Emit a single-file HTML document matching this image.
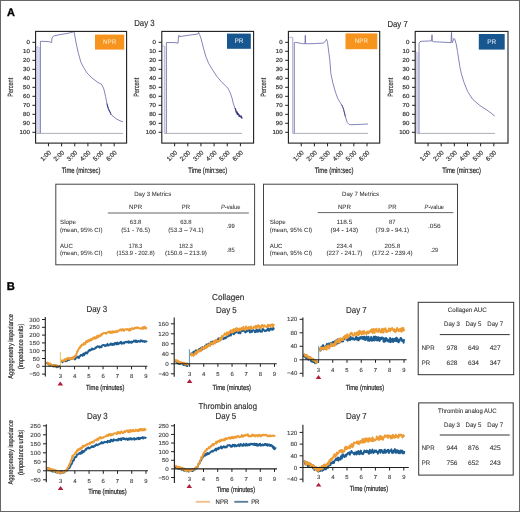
<!DOCTYPE html>
<html><head><meta charset="utf-8"><style>
html,body{margin:0;padding:0;background:#fff;}
svg{display:block;will-change:transform;}
text{font-family:"Liberation Sans", sans-serif;text-rendering:geometricPrecision;}
</style></head><body>
<svg width="520" height="512" viewBox="0 0 520 512">
<rect width="520" height="512" fill="#fff"/>
<text x="7.00" y="16.00" font-size="10.9" fill="#000" font-weight="bold" stroke="#000" stroke-width="0.35">A</text>
<text x="144.40" y="26.30" font-size="8.8" fill="#2e2e2e" text-anchor="middle" textLength="20.40" lengthAdjust="spacingAndGlyphs" stroke="#2e2e2e" stroke-width="0.15">Day 3</text>
<text x="397.60" y="26.50" font-size="8.8" fill="#2e2e2e" text-anchor="middle" textLength="20.30" lengthAdjust="spacingAndGlyphs" stroke="#2e2e2e" stroke-width="0.15">Day 7</text>
<rect x="95.00" y="34.60" width="29.20" height="15.00" fill="#F7941D"/>
<text x="109.60" y="43.90" font-size="6.6" fill="#FCE3B8" text-anchor="middle" textLength="13.20" lengthAdjust="spacingAndGlyphs" stroke="#FCE3B8" stroke-width="0.08">NPR</text>
<rect x="36.30" y="47.00" width="4.00" height="86.20" fill="#d8d8ee"/>
<line x1="36.30" y1="133.40" x2="123.00" y2="133.40" stroke="#a4a4b0" stroke-width="0.9"/>
<path d="M36.20,47.60 L38.40,46.00" fill="none" stroke="#9898cc" stroke-width="0.7" stroke-linejoin="round"/>
<path d="M40.40,133.20 L40.40,41.30 L45.00,41.40 L49.60,41.80 L51.60,42.60 L52.00,38.00 L53.50,36.00 L60.00,34.60 L67.00,33.50 L73.00,32.00 L74.00,31.60 L75.00,37.00 L76.10,43.00 L78.20,52.60 L80.90,62.20 L83.70,67.60 L87.10,73.10 L91.90,77.90 L97.30,82.00 L101.40,84.20 L103.50,88.10 L104.60,92.00 L105.50,96.30 L107.30,105.30 L108.80,110.00 L110.50,113.30 L112.00,115.50 L116.60,119.00 L120.00,120.80 L123.00,121.80" fill="none" stroke="#6464a8" stroke-width="0.8" stroke-linejoin="round"/>
<path d="M107.00,103.60 L107.30,104.60 L107.60,106.77 L107.90,106.66 L108.20,108.50 L108.50,108.97 L108.80,109.12 L109.10,110.71 L109.40,110.40 L109.70,111.76 L110.00,111.58 L110.30,112.14 L110.60,113.33 L110.90,114.72" fill="none" stroke="#3a3a84" stroke-width="1.0" stroke-linejoin="round"/>
<rect x="35.60" y="31.40" width="91.00" height="111.70" fill="none" stroke="#1e1e1e" stroke-width="1.1"/>
<line x1="32.40" y1="42.30" x2="35.60" y2="42.30" stroke="#1e1e1e" stroke-width="1"/>
<text x="29.80" y="44.30" font-size="5.8" fill="#333" text-anchor="end" textLength="3.40" lengthAdjust="spacingAndGlyphs" stroke="#333" stroke-width="0.2">0</text>
<line x1="32.40" y1="51.30" x2="35.60" y2="51.30" stroke="#1e1e1e" stroke-width="1"/>
<text x="29.80" y="53.30" font-size="5.8" fill="#333" text-anchor="end" textLength="6.80" lengthAdjust="spacingAndGlyphs" stroke="#333" stroke-width="0.2">10</text>
<line x1="32.40" y1="60.30" x2="35.60" y2="60.30" stroke="#1e1e1e" stroke-width="1"/>
<text x="29.80" y="62.30" font-size="5.8" fill="#333" text-anchor="end" textLength="6.80" lengthAdjust="spacingAndGlyphs" stroke="#333" stroke-width="0.2">20</text>
<line x1="32.40" y1="69.30" x2="35.60" y2="69.30" stroke="#1e1e1e" stroke-width="1"/>
<text x="29.80" y="71.30" font-size="5.8" fill="#333" text-anchor="end" textLength="6.80" lengthAdjust="spacingAndGlyphs" stroke="#333" stroke-width="0.2">30</text>
<line x1="32.40" y1="78.30" x2="35.60" y2="78.30" stroke="#1e1e1e" stroke-width="1"/>
<text x="29.80" y="80.30" font-size="5.8" fill="#333" text-anchor="end" textLength="6.80" lengthAdjust="spacingAndGlyphs" stroke="#333" stroke-width="0.2">40</text>
<line x1="32.40" y1="87.30" x2="35.60" y2="87.30" stroke="#1e1e1e" stroke-width="1"/>
<text x="29.80" y="89.30" font-size="5.8" fill="#333" text-anchor="end" textLength="6.80" lengthAdjust="spacingAndGlyphs" stroke="#333" stroke-width="0.2">50</text>
<line x1="32.40" y1="96.30" x2="35.60" y2="96.30" stroke="#1e1e1e" stroke-width="1"/>
<text x="29.80" y="98.30" font-size="5.8" fill="#333" text-anchor="end" textLength="6.80" lengthAdjust="spacingAndGlyphs" stroke="#333" stroke-width="0.2">60</text>
<line x1="32.40" y1="105.30" x2="35.60" y2="105.30" stroke="#1e1e1e" stroke-width="1"/>
<text x="29.80" y="107.30" font-size="5.8" fill="#333" text-anchor="end" textLength="6.80" lengthAdjust="spacingAndGlyphs" stroke="#333" stroke-width="0.2">70</text>
<line x1="32.40" y1="114.30" x2="35.60" y2="114.30" stroke="#1e1e1e" stroke-width="1"/>
<text x="29.80" y="116.30" font-size="5.8" fill="#333" text-anchor="end" textLength="6.80" lengthAdjust="spacingAndGlyphs" stroke="#333" stroke-width="0.2">80</text>
<line x1="32.40" y1="123.30" x2="35.60" y2="123.30" stroke="#1e1e1e" stroke-width="1"/>
<text x="29.80" y="125.30" font-size="5.8" fill="#333" text-anchor="end" textLength="6.80" lengthAdjust="spacingAndGlyphs" stroke="#333" stroke-width="0.2">90</text>
<line x1="32.40" y1="132.30" x2="35.60" y2="132.30" stroke="#1e1e1e" stroke-width="1"/>
<text x="29.80" y="134.30" font-size="5.8" fill="#333" text-anchor="end" textLength="10.20" lengthAdjust="spacingAndGlyphs" stroke="#333" stroke-width="0.2">100</text>
<line x1="48.45" y1="143.10" x2="48.45" y2="146.30" stroke="#1e1e1e" stroke-width="1"/>
<text transform="translate(51.45,153.00) rotate(-45)" x="0" y="0" font-size="6.3" fill="#333" text-anchor="end" textLength="12.00" lengthAdjust="spacingAndGlyphs" stroke="#333" stroke-width="0.2">1:00</text>
<line x1="61.60" y1="143.10" x2="61.60" y2="146.30" stroke="#1e1e1e" stroke-width="1"/>
<text transform="translate(64.60,153.00) rotate(-45)" x="0" y="0" font-size="6.3" fill="#333" text-anchor="end" textLength="12.00" lengthAdjust="spacingAndGlyphs" stroke="#333" stroke-width="0.2">2:00</text>
<line x1="74.75" y1="143.10" x2="74.75" y2="146.30" stroke="#1e1e1e" stroke-width="1"/>
<text transform="translate(77.75,153.00) rotate(-45)" x="0" y="0" font-size="6.3" fill="#333" text-anchor="end" textLength="12.00" lengthAdjust="spacingAndGlyphs" stroke="#333" stroke-width="0.2">3:00</text>
<line x1="87.90" y1="143.10" x2="87.90" y2="146.30" stroke="#1e1e1e" stroke-width="1"/>
<text transform="translate(90.90,153.00) rotate(-45)" x="0" y="0" font-size="6.3" fill="#333" text-anchor="end" textLength="12.00" lengthAdjust="spacingAndGlyphs" stroke="#333" stroke-width="0.2">4:00</text>
<line x1="101.05" y1="143.10" x2="101.05" y2="146.30" stroke="#1e1e1e" stroke-width="1"/>
<text transform="translate(104.05,153.00) rotate(-45)" x="0" y="0" font-size="6.3" fill="#333" text-anchor="end" textLength="12.00" lengthAdjust="spacingAndGlyphs" stroke="#333" stroke-width="0.2">5:00</text>
<line x1="114.20" y1="143.10" x2="114.20" y2="146.30" stroke="#1e1e1e" stroke-width="1"/>
<text transform="translate(117.20,153.00) rotate(-45)" x="0" y="0" font-size="6.3" fill="#333" text-anchor="end" textLength="12.00" lengthAdjust="spacingAndGlyphs" stroke="#333" stroke-width="0.2">6:00</text>
<text transform="translate(13.20,87.25) rotate(-90)" x="0" y="0" font-size="7.6" fill="#2a2a2a" text-anchor="middle" textLength="18.80" lengthAdjust="spacingAndGlyphs" stroke="#2a2a2a" stroke-width="0.16">Percent</text>
<text x="81.10" y="173.40" font-size="7.9" fill="#2a2a2a" text-anchor="middle" textLength="38.80" lengthAdjust="spacingAndGlyphs" stroke="#2a2a2a" stroke-width="0.22">Time (min:sec)</text>
<rect x="227.00" y="33.60" width="23.80" height="15.20" fill="#17568E"/>
<text x="238.90" y="43.00" font-size="6.6" fill="#D6E2F0" text-anchor="middle" textLength="9.00" lengthAdjust="spacingAndGlyphs" stroke="#D6E2F0" stroke-width="0.08">PR</text>
<rect x="164.30" y="46.00" width="2.10" height="87.20" fill="#ededf7"/>
<line x1="164.30" y1="133.40" x2="242.00" y2="133.40" stroke="#a4a4b0" stroke-width="0.9"/>
<path d="M162.30,46.00 L164.30,46.00 L164.30,133.20" fill="none" stroke="#9898cc" stroke-width="0.7" stroke-linejoin="round"/>
<path d="M166.40,133.20 L166.40,42.60 L172.00,42.50 L177.00,42.80 L178.00,43.30 L178.50,36.80 L179.00,35.30 L179.40,36.60 L185.00,35.80 L192.00,34.80 L198.00,34.00 L198.60,32.40 L199.60,34.50 L201.10,38.90 L203.20,47.10 L205.90,56.70 L208.70,63.50 L212.80,70.30 L216.90,76.50 L221.00,81.30 L225.10,85.40 L227.80,88.10 L229.20,90.60 L230.50,93.60 L231.90,97.70 L233.00,102.30 L234.70,107.80 L236.40,111.60 L238.40,114.90 L240.50,116.70 L242.50,118.30" fill="none" stroke="#6464a8" stroke-width="0.8" stroke-linejoin="round"/>
<path d="M235.20,108.10 L235.50,109.05 L235.80,110.74 L236.10,112.18 L236.40,111.80 L236.70,111.90 L237.00,113.96 L237.30,112.07 L237.60,114.68 L237.90,113.67 L238.20,113.71 L238.50,114.02 L238.80,114.84 L239.10,116.44 L239.40,115.04 L239.70,116.31 L240.00,116.68 L240.30,116.21 L240.60,116.91 L240.90,115.89 L241.20,116.12 L241.50,116.74 L241.80,118.22 L242.10,117.79 L242.40,117.74" fill="none" stroke="#3a3a84" stroke-width="1.2" stroke-linejoin="round"/>
<rect x="161.80" y="31.40" width="91.80" height="111.70" fill="none" stroke="#1e1e1e" stroke-width="1.1"/>
<line x1="158.60" y1="42.30" x2="161.80" y2="42.30" stroke="#1e1e1e" stroke-width="1"/>
<text x="156.00" y="44.30" font-size="5.8" fill="#333" text-anchor="end" textLength="3.40" lengthAdjust="spacingAndGlyphs" stroke="#333" stroke-width="0.2">0</text>
<line x1="158.60" y1="51.30" x2="161.80" y2="51.30" stroke="#1e1e1e" stroke-width="1"/>
<text x="156.00" y="53.30" font-size="5.8" fill="#333" text-anchor="end" textLength="6.80" lengthAdjust="spacingAndGlyphs" stroke="#333" stroke-width="0.2">10</text>
<line x1="158.60" y1="60.30" x2="161.80" y2="60.30" stroke="#1e1e1e" stroke-width="1"/>
<text x="156.00" y="62.30" font-size="5.8" fill="#333" text-anchor="end" textLength="6.80" lengthAdjust="spacingAndGlyphs" stroke="#333" stroke-width="0.2">20</text>
<line x1="158.60" y1="69.30" x2="161.80" y2="69.30" stroke="#1e1e1e" stroke-width="1"/>
<text x="156.00" y="71.30" font-size="5.8" fill="#333" text-anchor="end" textLength="6.80" lengthAdjust="spacingAndGlyphs" stroke="#333" stroke-width="0.2">30</text>
<line x1="158.60" y1="78.30" x2="161.80" y2="78.30" stroke="#1e1e1e" stroke-width="1"/>
<text x="156.00" y="80.30" font-size="5.8" fill="#333" text-anchor="end" textLength="6.80" lengthAdjust="spacingAndGlyphs" stroke="#333" stroke-width="0.2">40</text>
<line x1="158.60" y1="87.30" x2="161.80" y2="87.30" stroke="#1e1e1e" stroke-width="1"/>
<text x="156.00" y="89.30" font-size="5.8" fill="#333" text-anchor="end" textLength="6.80" lengthAdjust="spacingAndGlyphs" stroke="#333" stroke-width="0.2">50</text>
<line x1="158.60" y1="96.30" x2="161.80" y2="96.30" stroke="#1e1e1e" stroke-width="1"/>
<text x="156.00" y="98.30" font-size="5.8" fill="#333" text-anchor="end" textLength="6.80" lengthAdjust="spacingAndGlyphs" stroke="#333" stroke-width="0.2">60</text>
<line x1="158.60" y1="105.30" x2="161.80" y2="105.30" stroke="#1e1e1e" stroke-width="1"/>
<text x="156.00" y="107.30" font-size="5.8" fill="#333" text-anchor="end" textLength="6.80" lengthAdjust="spacingAndGlyphs" stroke="#333" stroke-width="0.2">70</text>
<line x1="158.60" y1="114.30" x2="161.80" y2="114.30" stroke="#1e1e1e" stroke-width="1"/>
<text x="156.00" y="116.30" font-size="5.8" fill="#333" text-anchor="end" textLength="6.80" lengthAdjust="spacingAndGlyphs" stroke="#333" stroke-width="0.2">80</text>
<line x1="158.60" y1="123.30" x2="161.80" y2="123.30" stroke="#1e1e1e" stroke-width="1"/>
<text x="156.00" y="125.30" font-size="5.8" fill="#333" text-anchor="end" textLength="6.80" lengthAdjust="spacingAndGlyphs" stroke="#333" stroke-width="0.2">90</text>
<line x1="158.60" y1="132.30" x2="161.80" y2="132.30" stroke="#1e1e1e" stroke-width="1"/>
<text x="156.00" y="134.30" font-size="5.8" fill="#333" text-anchor="end" textLength="10.20" lengthAdjust="spacingAndGlyphs" stroke="#333" stroke-width="0.2">100</text>
<line x1="174.65" y1="143.10" x2="174.65" y2="146.30" stroke="#1e1e1e" stroke-width="1"/>
<text transform="translate(177.65,153.00) rotate(-45)" x="0" y="0" font-size="6.3" fill="#333" text-anchor="end" textLength="12.00" lengthAdjust="spacingAndGlyphs" stroke="#333" stroke-width="0.2">1:00</text>
<line x1="187.80" y1="143.10" x2="187.80" y2="146.30" stroke="#1e1e1e" stroke-width="1"/>
<text transform="translate(190.80,153.00) rotate(-45)" x="0" y="0" font-size="6.3" fill="#333" text-anchor="end" textLength="12.00" lengthAdjust="spacingAndGlyphs" stroke="#333" stroke-width="0.2">2:00</text>
<line x1="200.95" y1="143.10" x2="200.95" y2="146.30" stroke="#1e1e1e" stroke-width="1"/>
<text transform="translate(203.95,153.00) rotate(-45)" x="0" y="0" font-size="6.3" fill="#333" text-anchor="end" textLength="12.00" lengthAdjust="spacingAndGlyphs" stroke="#333" stroke-width="0.2">3:00</text>
<line x1="214.10" y1="143.10" x2="214.10" y2="146.30" stroke="#1e1e1e" stroke-width="1"/>
<text transform="translate(217.10,153.00) rotate(-45)" x="0" y="0" font-size="6.3" fill="#333" text-anchor="end" textLength="12.00" lengthAdjust="spacingAndGlyphs" stroke="#333" stroke-width="0.2">4:00</text>
<line x1="227.25" y1="143.10" x2="227.25" y2="146.30" stroke="#1e1e1e" stroke-width="1"/>
<text transform="translate(230.25,153.00) rotate(-45)" x="0" y="0" font-size="6.3" fill="#333" text-anchor="end" textLength="12.00" lengthAdjust="spacingAndGlyphs" stroke="#333" stroke-width="0.2">5:00</text>
<line x1="240.40" y1="143.10" x2="240.40" y2="146.30" stroke="#1e1e1e" stroke-width="1"/>
<text transform="translate(243.40,153.00) rotate(-45)" x="0" y="0" font-size="6.3" fill="#333" text-anchor="end" textLength="12.00" lengthAdjust="spacingAndGlyphs" stroke="#333" stroke-width="0.2">6:00</text>
<text transform="translate(139.40,87.25) rotate(-90)" x="0" y="0" font-size="7.6" fill="#2a2a2a" text-anchor="middle" textLength="18.80" lengthAdjust="spacingAndGlyphs" stroke="#2a2a2a" stroke-width="0.16">Percent</text>
<text x="207.70" y="173.40" font-size="7.9" fill="#2a2a2a" text-anchor="middle" textLength="38.80" lengthAdjust="spacingAndGlyphs" stroke="#2a2a2a" stroke-width="0.22">Time (min:sec)</text>
<rect x="345.50" y="33.40" width="31.80" height="15.80" fill="#F7941D"/>
<text x="361.40" y="43.10" font-size="6.6" fill="#FCE3B8" text-anchor="middle" textLength="13.20" lengthAdjust="spacingAndGlyphs" stroke="#FCE3B8" stroke-width="0.08">NPR</text>
<rect x="292.60" y="38.00" width="1.70" height="95.20" fill="#ededf7"/>
<line x1="292.60" y1="133.40" x2="368.00" y2="133.40" stroke="#a4a4b0" stroke-width="0.9"/>
<path d="M288.90,37.80 L290.40,37.30 L292.60,37.30 L292.60,133.20" fill="none" stroke="#9898cc" stroke-width="0.7" stroke-linejoin="round"/>
<path d="M294.30,133.20 L294.30,42.60 L295.70,42.40 L302.60,43.60 L305.00,43.80 L305.30,35.30 L305.60,43.80 L314.30,43.60 L323.10,43.10 L325.00,41.70 L326.50,39.20 L327.50,42.20 L328.50,50.00 L329.80,60.00 L330.90,73.70 L332.90,83.20 L335.70,92.80 L337.70,98.30 L340.00,102.20 L342.50,106.40 L343.90,110.50 L345.20,116.00 L347.30,122.60 L349.30,124.60 L352.00,124.70 L361.60,124.30 L368.00,124.00" fill="none" stroke="#6464a8" stroke-width="0.8" stroke-linejoin="round"/>
<path d="M341.50,104.69 L341.80,105.05 L342.10,105.43 L342.40,106.49 L342.70,107.04 L343.00,107.33 L343.30,108.52 L343.60,109.46 L343.90,110.88 L344.20,111.92 L344.50,112.85 L344.80,114.90 L345.10,115.24 L345.40,116.63" fill="none" stroke="#3a3a84" stroke-width="0.8" stroke-linejoin="round"/>
<rect x="288.40" y="31.40" width="91.30" height="111.70" fill="none" stroke="#1e1e1e" stroke-width="1.1"/>
<line x1="285.20" y1="42.30" x2="288.40" y2="42.30" stroke="#1e1e1e" stroke-width="1"/>
<text x="282.60" y="44.30" font-size="5.8" fill="#333" text-anchor="end" textLength="3.40" lengthAdjust="spacingAndGlyphs" stroke="#333" stroke-width="0.2">0</text>
<line x1="285.20" y1="51.30" x2="288.40" y2="51.30" stroke="#1e1e1e" stroke-width="1"/>
<text x="282.60" y="53.30" font-size="5.8" fill="#333" text-anchor="end" textLength="6.80" lengthAdjust="spacingAndGlyphs" stroke="#333" stroke-width="0.2">10</text>
<line x1="285.20" y1="60.30" x2="288.40" y2="60.30" stroke="#1e1e1e" stroke-width="1"/>
<text x="282.60" y="62.30" font-size="5.8" fill="#333" text-anchor="end" textLength="6.80" lengthAdjust="spacingAndGlyphs" stroke="#333" stroke-width="0.2">20</text>
<line x1="285.20" y1="69.30" x2="288.40" y2="69.30" stroke="#1e1e1e" stroke-width="1"/>
<text x="282.60" y="71.30" font-size="5.8" fill="#333" text-anchor="end" textLength="6.80" lengthAdjust="spacingAndGlyphs" stroke="#333" stroke-width="0.2">30</text>
<line x1="285.20" y1="78.30" x2="288.40" y2="78.30" stroke="#1e1e1e" stroke-width="1"/>
<text x="282.60" y="80.30" font-size="5.8" fill="#333" text-anchor="end" textLength="6.80" lengthAdjust="spacingAndGlyphs" stroke="#333" stroke-width="0.2">40</text>
<line x1="285.20" y1="87.30" x2="288.40" y2="87.30" stroke="#1e1e1e" stroke-width="1"/>
<text x="282.60" y="89.30" font-size="5.8" fill="#333" text-anchor="end" textLength="6.80" lengthAdjust="spacingAndGlyphs" stroke="#333" stroke-width="0.2">50</text>
<line x1="285.20" y1="96.30" x2="288.40" y2="96.30" stroke="#1e1e1e" stroke-width="1"/>
<text x="282.60" y="98.30" font-size="5.8" fill="#333" text-anchor="end" textLength="6.80" lengthAdjust="spacingAndGlyphs" stroke="#333" stroke-width="0.2">60</text>
<line x1="285.20" y1="105.30" x2="288.40" y2="105.30" stroke="#1e1e1e" stroke-width="1"/>
<text x="282.60" y="107.30" font-size="5.8" fill="#333" text-anchor="end" textLength="6.80" lengthAdjust="spacingAndGlyphs" stroke="#333" stroke-width="0.2">70</text>
<line x1="285.20" y1="114.30" x2="288.40" y2="114.30" stroke="#1e1e1e" stroke-width="1"/>
<text x="282.60" y="116.30" font-size="5.8" fill="#333" text-anchor="end" textLength="6.80" lengthAdjust="spacingAndGlyphs" stroke="#333" stroke-width="0.2">80</text>
<line x1="285.20" y1="123.30" x2="288.40" y2="123.30" stroke="#1e1e1e" stroke-width="1"/>
<text x="282.60" y="125.30" font-size="5.8" fill="#333" text-anchor="end" textLength="6.80" lengthAdjust="spacingAndGlyphs" stroke="#333" stroke-width="0.2">90</text>
<line x1="285.20" y1="132.30" x2="288.40" y2="132.30" stroke="#1e1e1e" stroke-width="1"/>
<text x="282.60" y="134.30" font-size="5.8" fill="#333" text-anchor="end" textLength="10.20" lengthAdjust="spacingAndGlyphs" stroke="#333" stroke-width="0.2">100</text>
<line x1="301.25" y1="143.10" x2="301.25" y2="146.30" stroke="#1e1e1e" stroke-width="1"/>
<text transform="translate(304.25,153.00) rotate(-45)" x="0" y="0" font-size="6.3" fill="#333" text-anchor="end" textLength="12.00" lengthAdjust="spacingAndGlyphs" stroke="#333" stroke-width="0.2">1:00</text>
<line x1="314.40" y1="143.10" x2="314.40" y2="146.30" stroke="#1e1e1e" stroke-width="1"/>
<text transform="translate(317.40,153.00) rotate(-45)" x="0" y="0" font-size="6.3" fill="#333" text-anchor="end" textLength="12.00" lengthAdjust="spacingAndGlyphs" stroke="#333" stroke-width="0.2">2:00</text>
<line x1="327.55" y1="143.10" x2="327.55" y2="146.30" stroke="#1e1e1e" stroke-width="1"/>
<text transform="translate(330.55,153.00) rotate(-45)" x="0" y="0" font-size="6.3" fill="#333" text-anchor="end" textLength="12.00" lengthAdjust="spacingAndGlyphs" stroke="#333" stroke-width="0.2">3:00</text>
<line x1="340.70" y1="143.10" x2="340.70" y2="146.30" stroke="#1e1e1e" stroke-width="1"/>
<text transform="translate(343.70,153.00) rotate(-45)" x="0" y="0" font-size="6.3" fill="#333" text-anchor="end" textLength="12.00" lengthAdjust="spacingAndGlyphs" stroke="#333" stroke-width="0.2">4:00</text>
<line x1="353.85" y1="143.10" x2="353.85" y2="146.30" stroke="#1e1e1e" stroke-width="1"/>
<text transform="translate(356.85,153.00) rotate(-45)" x="0" y="0" font-size="6.3" fill="#333" text-anchor="end" textLength="12.00" lengthAdjust="spacingAndGlyphs" stroke="#333" stroke-width="0.2">5:00</text>
<line x1="367.00" y1="143.10" x2="367.00" y2="146.30" stroke="#1e1e1e" stroke-width="1"/>
<text transform="translate(370.00,153.00) rotate(-45)" x="0" y="0" font-size="6.3" fill="#333" text-anchor="end" textLength="12.00" lengthAdjust="spacingAndGlyphs" stroke="#333" stroke-width="0.2">6:00</text>
<text transform="translate(266.00,87.25) rotate(-90)" x="0" y="0" font-size="7.6" fill="#2a2a2a" text-anchor="middle" textLength="18.80" lengthAdjust="spacingAndGlyphs" stroke="#2a2a2a" stroke-width="0.16">Percent</text>
<text x="334.05" y="173.40" font-size="7.9" fill="#2a2a2a" text-anchor="middle" textLength="38.80" lengthAdjust="spacingAndGlyphs" stroke="#2a2a2a" stroke-width="0.22">Time (min:sec)</text>
<rect x="478.80" y="34.00" width="25.90" height="15.60" fill="#17568E"/>
<text x="491.75" y="43.60" font-size="6.6" fill="#D6E2F0" text-anchor="middle" textLength="9.00" lengthAdjust="spacingAndGlyphs" stroke="#D6E2F0" stroke-width="0.08">PR</text>
<rect x="416.90" y="52.40" width="2.10" height="80.80" fill="#ededf7"/>
<line x1="416.90" y1="133.40" x2="495.00" y2="133.40" stroke="#a4a4b0" stroke-width="0.9"/>
<path d="M415.50,52.00 L416.90,52.40 L416.90,133.20" fill="none" stroke="#9898cc" stroke-width="0.7" stroke-linejoin="round"/>
<path d="M419.00,133.20 L419.00,43.40 L420.00,41.70 L421.00,41.30 L431.50,40.90 L432.00,34.80 L432.40,41.30 L433.50,41.70 L445.00,42.30 L451.00,42.60 L451.50,32.40 L452.00,42.60 L452.50,42.60 L454.00,38.30 L455.00,39.70 L456.20,44.00 L457.50,51.50 L458.80,59.90 L460.00,67.50 L461.40,73.90 L464.10,82.70 L467.60,91.50 L472.80,99.40 L479.90,105.60 L486.90,110.00 L491.00,113.00 L494.80,116.10" fill="none" stroke="#6464a8" stroke-width="0.8" stroke-linejoin="round"/>
<rect x="415.20" y="31.40" width="92.80" height="111.70" fill="none" stroke="#1e1e1e" stroke-width="1.1"/>
<line x1="412.00" y1="42.30" x2="415.20" y2="42.30" stroke="#1e1e1e" stroke-width="1"/>
<text x="409.40" y="44.30" font-size="5.8" fill="#333" text-anchor="end" textLength="3.40" lengthAdjust="spacingAndGlyphs" stroke="#333" stroke-width="0.2">0</text>
<line x1="412.00" y1="51.30" x2="415.20" y2="51.30" stroke="#1e1e1e" stroke-width="1"/>
<text x="409.40" y="53.30" font-size="5.8" fill="#333" text-anchor="end" textLength="6.80" lengthAdjust="spacingAndGlyphs" stroke="#333" stroke-width="0.2">10</text>
<line x1="412.00" y1="60.30" x2="415.20" y2="60.30" stroke="#1e1e1e" stroke-width="1"/>
<text x="409.40" y="62.30" font-size="5.8" fill="#333" text-anchor="end" textLength="6.80" lengthAdjust="spacingAndGlyphs" stroke="#333" stroke-width="0.2">20</text>
<line x1="412.00" y1="69.30" x2="415.20" y2="69.30" stroke="#1e1e1e" stroke-width="1"/>
<text x="409.40" y="71.30" font-size="5.8" fill="#333" text-anchor="end" textLength="6.80" lengthAdjust="spacingAndGlyphs" stroke="#333" stroke-width="0.2">30</text>
<line x1="412.00" y1="78.30" x2="415.20" y2="78.30" stroke="#1e1e1e" stroke-width="1"/>
<text x="409.40" y="80.30" font-size="5.8" fill="#333" text-anchor="end" textLength="6.80" lengthAdjust="spacingAndGlyphs" stroke="#333" stroke-width="0.2">40</text>
<line x1="412.00" y1="87.30" x2="415.20" y2="87.30" stroke="#1e1e1e" stroke-width="1"/>
<text x="409.40" y="89.30" font-size="5.8" fill="#333" text-anchor="end" textLength="6.80" lengthAdjust="spacingAndGlyphs" stroke="#333" stroke-width="0.2">50</text>
<line x1="412.00" y1="96.30" x2="415.20" y2="96.30" stroke="#1e1e1e" stroke-width="1"/>
<text x="409.40" y="98.30" font-size="5.8" fill="#333" text-anchor="end" textLength="6.80" lengthAdjust="spacingAndGlyphs" stroke="#333" stroke-width="0.2">60</text>
<line x1="412.00" y1="105.30" x2="415.20" y2="105.30" stroke="#1e1e1e" stroke-width="1"/>
<text x="409.40" y="107.30" font-size="5.8" fill="#333" text-anchor="end" textLength="6.80" lengthAdjust="spacingAndGlyphs" stroke="#333" stroke-width="0.2">70</text>
<line x1="412.00" y1="114.30" x2="415.20" y2="114.30" stroke="#1e1e1e" stroke-width="1"/>
<text x="409.40" y="116.30" font-size="5.8" fill="#333" text-anchor="end" textLength="6.80" lengthAdjust="spacingAndGlyphs" stroke="#333" stroke-width="0.2">80</text>
<line x1="412.00" y1="123.30" x2="415.20" y2="123.30" stroke="#1e1e1e" stroke-width="1"/>
<text x="409.40" y="125.30" font-size="5.8" fill="#333" text-anchor="end" textLength="6.80" lengthAdjust="spacingAndGlyphs" stroke="#333" stroke-width="0.2">90</text>
<line x1="412.00" y1="132.30" x2="415.20" y2="132.30" stroke="#1e1e1e" stroke-width="1"/>
<text x="409.40" y="134.30" font-size="5.8" fill="#333" text-anchor="end" textLength="10.20" lengthAdjust="spacingAndGlyphs" stroke="#333" stroke-width="0.2">100</text>
<line x1="428.05" y1="143.10" x2="428.05" y2="146.30" stroke="#1e1e1e" stroke-width="1"/>
<text transform="translate(431.05,153.00) rotate(-45)" x="0" y="0" font-size="6.3" fill="#333" text-anchor="end" textLength="12.00" lengthAdjust="spacingAndGlyphs" stroke="#333" stroke-width="0.2">1:00</text>
<line x1="441.20" y1="143.10" x2="441.20" y2="146.30" stroke="#1e1e1e" stroke-width="1"/>
<text transform="translate(444.20,153.00) rotate(-45)" x="0" y="0" font-size="6.3" fill="#333" text-anchor="end" textLength="12.00" lengthAdjust="spacingAndGlyphs" stroke="#333" stroke-width="0.2">2:00</text>
<line x1="454.35" y1="143.10" x2="454.35" y2="146.30" stroke="#1e1e1e" stroke-width="1"/>
<text transform="translate(457.35,153.00) rotate(-45)" x="0" y="0" font-size="6.3" fill="#333" text-anchor="end" textLength="12.00" lengthAdjust="spacingAndGlyphs" stroke="#333" stroke-width="0.2">3:00</text>
<line x1="467.50" y1="143.10" x2="467.50" y2="146.30" stroke="#1e1e1e" stroke-width="1"/>
<text transform="translate(470.50,153.00) rotate(-45)" x="0" y="0" font-size="6.3" fill="#333" text-anchor="end" textLength="12.00" lengthAdjust="spacingAndGlyphs" stroke="#333" stroke-width="0.2">4:00</text>
<line x1="480.65" y1="143.10" x2="480.65" y2="146.30" stroke="#1e1e1e" stroke-width="1"/>
<text transform="translate(483.65,153.00) rotate(-45)" x="0" y="0" font-size="6.3" fill="#333" text-anchor="end" textLength="12.00" lengthAdjust="spacingAndGlyphs" stroke="#333" stroke-width="0.2">5:00</text>
<line x1="493.80" y1="143.10" x2="493.80" y2="146.30" stroke="#1e1e1e" stroke-width="1"/>
<text transform="translate(496.80,153.00) rotate(-45)" x="0" y="0" font-size="6.3" fill="#333" text-anchor="end" textLength="12.00" lengthAdjust="spacingAndGlyphs" stroke="#333" stroke-width="0.2">6:00</text>
<text transform="translate(392.80,87.25) rotate(-90)" x="0" y="0" font-size="7.6" fill="#2a2a2a" text-anchor="middle" textLength="18.80" lengthAdjust="spacingAndGlyphs" stroke="#2a2a2a" stroke-width="0.16">Percent</text>
<text x="461.60" y="173.40" font-size="7.9" fill="#2a2a2a" text-anchor="middle" textLength="38.80" lengthAdjust="spacingAndGlyphs" stroke="#2a2a2a" stroke-width="0.22">Time (min:sec)</text>
<rect x="55.80" y="184.20" width="198.80" height="80.60" fill="none" stroke="#444" stroke-width="1.0"/>
<text x="152.70" y="196.20" font-size="6.15" fill="#383838" text-anchor="middle" textLength="37.00" lengthAdjust="spacingAndGlyphs" stroke="#383838" stroke-width="0.06">Day 3 Metrics</text>
<text x="135.60" y="208.60" font-size="6.15" fill="#383838" text-anchor="middle" textLength="13.00" lengthAdjust="spacingAndGlyphs" stroke="#383838" stroke-width="0.06">NPR</text>
<text x="185.90" y="208.60" font-size="6.15" fill="#383838" text-anchor="middle" textLength="8.30" lengthAdjust="spacingAndGlyphs" stroke="#383838" stroke-width="0.06">PR</text>
<text x="230.70" y="208.6" font-size="6.15" fill="#383838" stroke="#383838" stroke-width="0.06" text-anchor="middle" textLength="19.4" lengthAdjust="spacingAndGlyphs"><tspan font-style="italic">P</tspan>-value</text>
<line x1="107.80" y1="213.00" x2="248.80" y2="213.00" stroke="#555" stroke-width="0.9"/>
<text x="60.00" y="224.00" font-size="6.15" fill="#383838" textLength="16.00" lengthAdjust="spacingAndGlyphs" stroke="#383838" stroke-width="0.06">Slope</text>
<text x="60.00" y="231.80" font-size="6.15" fill="#383838" textLength="42.40" lengthAdjust="spacingAndGlyphs" stroke="#383838" stroke-width="0.06">(mean, 95% CI)</text>
<text x="135.60" y="224.00" font-size="6.15" fill="#383838" text-anchor="middle" textLength="11.50" lengthAdjust="spacingAndGlyphs" stroke="#383838" stroke-width="0.06">63.8</text>
<text x="135.60" y="231.80" font-size="6.15" fill="#383838" text-anchor="middle" textLength="28.90" lengthAdjust="spacingAndGlyphs" stroke="#383838" stroke-width="0.06">(51 - 76.5)</text>
<text x="185.90" y="224.00" font-size="6.15" fill="#383838" text-anchor="middle" textLength="11.50" lengthAdjust="spacingAndGlyphs" stroke="#383838" stroke-width="0.06">63.8</text>
<text x="185.90" y="231.80" font-size="6.15" fill="#383838" text-anchor="middle" textLength="35.20" lengthAdjust="spacingAndGlyphs" stroke="#383838" stroke-width="0.06">(53.3 – 74.1)</text>
<text x="230.70" y="228.00" font-size="6.15" fill="#383838" text-anchor="middle" textLength="8.10" lengthAdjust="spacingAndGlyphs" stroke="#383838" stroke-width="0.06">.99</text>
<text x="60.00" y="247.60" font-size="6.15" fill="#383838" textLength="12.80" lengthAdjust="spacingAndGlyphs" stroke="#383838" stroke-width="0.06">AUC</text>
<text x="60.00" y="255.40" font-size="6.15" fill="#383838" textLength="42.40" lengthAdjust="spacingAndGlyphs" stroke="#383838" stroke-width="0.06">(mean, 95% CI)</text>
<text x="135.60" y="247.60" font-size="6.15" fill="#383838" text-anchor="middle" textLength="13.60" lengthAdjust="spacingAndGlyphs" stroke="#383838" stroke-width="0.06">178.3</text>
<text x="135.60" y="255.40" font-size="6.15" fill="#383838" text-anchor="middle" textLength="38.00" lengthAdjust="spacingAndGlyphs" stroke="#383838" stroke-width="0.06">(153.9 - 202.8)</text>
<text x="185.90" y="247.60" font-size="6.15" fill="#383838" text-anchor="middle" textLength="13.60" lengthAdjust="spacingAndGlyphs" stroke="#383838" stroke-width="0.06">182.3</text>
<text x="185.90" y="255.40" font-size="6.15" fill="#383838" text-anchor="middle" textLength="42.00" lengthAdjust="spacingAndGlyphs" stroke="#383838" stroke-width="0.06">(150.6 – 213.9)</text>
<text x="230.70" y="251.60" font-size="6.15" fill="#383838" text-anchor="middle" textLength="8.10" lengthAdjust="spacingAndGlyphs" stroke="#383838" stroke-width="0.06">.85</text>
<rect x="263.50" y="184.20" width="194.00" height="80.80" fill="none" stroke="#444" stroke-width="1.0"/>
<text x="360.60" y="196.20" font-size="6.15" fill="#383838" text-anchor="middle" textLength="37.00" lengthAdjust="spacingAndGlyphs" stroke="#383838" stroke-width="0.06">Day 7 Metrics</text>
<text x="344.40" y="208.60" font-size="6.15" fill="#383838" text-anchor="middle" textLength="13.00" lengthAdjust="spacingAndGlyphs" stroke="#383838" stroke-width="0.06">NPR</text>
<text x="392.30" y="208.60" font-size="6.15" fill="#383838" text-anchor="middle" textLength="8.30" lengthAdjust="spacingAndGlyphs" stroke="#383838" stroke-width="0.06">PR</text>
<text x="434.30" y="208.6" font-size="6.15" fill="#383838" stroke="#383838" stroke-width="0.06" text-anchor="middle" textLength="19.4" lengthAdjust="spacingAndGlyphs"><tspan font-style="italic">P</tspan>-value</text>
<line x1="317.70" y1="212.60" x2="453.40" y2="212.60" stroke="#555" stroke-width="0.9"/>
<text x="269.70" y="224.00" font-size="6.15" fill="#383838" textLength="16.00" lengthAdjust="spacingAndGlyphs" stroke="#383838" stroke-width="0.06">Slope</text>
<text x="269.70" y="231.80" font-size="6.15" fill="#383838" textLength="42.40" lengthAdjust="spacingAndGlyphs" stroke="#383838" stroke-width="0.06">(mean, 95% CI)</text>
<text x="344.40" y="224.00" font-size="6.15" fill="#383838" text-anchor="middle" textLength="15.70" lengthAdjust="spacingAndGlyphs" stroke="#383838" stroke-width="0.06">118.5</text>
<text x="344.40" y="231.80" font-size="6.15" fill="#383838" text-anchor="middle" textLength="27.60" lengthAdjust="spacingAndGlyphs" stroke="#383838" stroke-width="0.06">(94 - 143)</text>
<text x="392.30" y="224.00" font-size="6.15" fill="#383838" text-anchor="middle" textLength="6.40" lengthAdjust="spacingAndGlyphs" stroke="#383838" stroke-width="0.06">87</text>
<text x="392.30" y="231.80" font-size="6.15" fill="#383838" text-anchor="middle" textLength="33.50" lengthAdjust="spacingAndGlyphs" stroke="#383838" stroke-width="0.06">(79.9 - 94.1)</text>
<text x="434.30" y="228.00" font-size="6.15" fill="#383838" text-anchor="middle" textLength="12.70" lengthAdjust="spacingAndGlyphs" stroke="#383838" stroke-width="0.06">.056</text>
<text x="269.70" y="247.60" font-size="6.15" fill="#383838" textLength="12.80" lengthAdjust="spacingAndGlyphs" stroke="#383838" stroke-width="0.06">AUC</text>
<text x="269.70" y="255.40" font-size="6.15" fill="#383838" textLength="42.40" lengthAdjust="spacingAndGlyphs" stroke="#383838" stroke-width="0.06">(mean, 95% CI)</text>
<text x="344.40" y="247.60" font-size="6.15" fill="#383838" text-anchor="middle" textLength="15.70" lengthAdjust="spacingAndGlyphs" stroke="#383838" stroke-width="0.06">234.4</text>
<text x="344.40" y="255.40" font-size="6.15" fill="#383838" text-anchor="middle" textLength="35.80" lengthAdjust="spacingAndGlyphs" stroke="#383838" stroke-width="0.06">(227 - 241.7)</text>
<text x="392.30" y="247.60" font-size="6.15" fill="#383838" text-anchor="middle" textLength="15.70" lengthAdjust="spacingAndGlyphs" stroke="#383838" stroke-width="0.06">205.8</text>
<text x="392.30" y="255.40" font-size="6.15" fill="#383838" text-anchor="middle" textLength="40.60" lengthAdjust="spacingAndGlyphs" stroke="#383838" stroke-width="0.06">(172.2 - 239.4)</text>
<text x="434.30" y="251.60" font-size="6.15" fill="#383838" text-anchor="middle" textLength="7.80" lengthAdjust="spacingAndGlyphs" stroke="#383838" stroke-width="0.06">.29</text>
<text x="6.80" y="289.70" font-size="11.2" fill="#000" font-weight="bold" stroke="#000" stroke-width="0.35">B</text>
<text x="228.20" y="300.20" font-size="8.6" fill="#2e2e2e" text-anchor="middle" textLength="32.20" lengthAdjust="spacingAndGlyphs" stroke="#2e2e2e" stroke-width="0.15">Collagen</text>
<text x="227.80" y="408.50" font-size="8.6" fill="#2e2e2e" text-anchor="middle" textLength="58.50" lengthAdjust="spacingAndGlyphs" stroke="#2e2e2e" stroke-width="0.15">Thrombin analog</text>
<line x1="42.00" y1="319.50" x2="45.30" y2="319.50" stroke="#1e1e1e" stroke-width="1"/>
<text x="39.70" y="321.60" font-size="5.9" fill="#383838" text-anchor="end" textLength="10.35" lengthAdjust="spacingAndGlyphs" stroke="#383838" stroke-width="0.1">300</text>
<line x1="42.00" y1="327.30" x2="45.30" y2="327.30" stroke="#1e1e1e" stroke-width="1"/>
<text x="39.70" y="329.40" font-size="5.9" fill="#383838" text-anchor="end" textLength="10.35" lengthAdjust="spacingAndGlyphs" stroke="#383838" stroke-width="0.1">250</text>
<line x1="42.00" y1="335.10" x2="45.30" y2="335.10" stroke="#1e1e1e" stroke-width="1"/>
<text x="39.70" y="337.20" font-size="5.9" fill="#383838" text-anchor="end" textLength="10.35" lengthAdjust="spacingAndGlyphs" stroke="#383838" stroke-width="0.1">200</text>
<line x1="42.00" y1="342.90" x2="45.30" y2="342.90" stroke="#1e1e1e" stroke-width="1"/>
<text x="39.70" y="345.00" font-size="5.9" fill="#383838" text-anchor="end" textLength="10.35" lengthAdjust="spacingAndGlyphs" stroke="#383838" stroke-width="0.1">150</text>
<line x1="42.00" y1="350.70" x2="45.30" y2="350.70" stroke="#1e1e1e" stroke-width="1"/>
<text x="39.70" y="352.80" font-size="5.9" fill="#383838" text-anchor="end" textLength="10.35" lengthAdjust="spacingAndGlyphs" stroke="#383838" stroke-width="0.1">100</text>
<line x1="42.00" y1="358.50" x2="45.30" y2="358.50" stroke="#1e1e1e" stroke-width="1"/>
<text x="39.70" y="360.60" font-size="5.9" fill="#383838" text-anchor="end" textLength="6.90" lengthAdjust="spacingAndGlyphs" stroke="#383838" stroke-width="0.1">50</text>
<line x1="42.00" y1="366.30" x2="45.30" y2="366.30" stroke="#1e1e1e" stroke-width="1"/>
<text x="39.70" y="368.40" font-size="5.9" fill="#383838" text-anchor="end" textLength="3.45" lengthAdjust="spacingAndGlyphs" stroke="#383838" stroke-width="0.1">0</text>
<line x1="42.00" y1="374.10" x2="45.30" y2="374.10" stroke="#1e1e1e" stroke-width="1"/>
<text x="39.70" y="376.20" font-size="5.9" fill="#383838" text-anchor="end" textLength="10.20" lengthAdjust="spacingAndGlyphs" stroke="#383838" stroke-width="0.1">−50</text>
<line x1="60.30" y1="366.30" x2="60.30" y2="369.30" stroke="#1e1e1e" stroke-width="1"/>
<text x="60.30" y="378.00" font-size="5.9" fill="#383838" text-anchor="middle" textLength="3.30" lengthAdjust="spacingAndGlyphs" stroke="#383838" stroke-width="0.1">3</text>
<line x1="74.55" y1="366.30" x2="74.55" y2="369.30" stroke="#1e1e1e" stroke-width="1"/>
<text x="74.55" y="378.00" font-size="5.9" fill="#383838" text-anchor="middle" textLength="3.30" lengthAdjust="spacingAndGlyphs" stroke="#383838" stroke-width="0.1">4</text>
<line x1="88.80" y1="366.30" x2="88.80" y2="369.30" stroke="#1e1e1e" stroke-width="1"/>
<text x="88.80" y="378.00" font-size="5.9" fill="#383838" text-anchor="middle" textLength="3.30" lengthAdjust="spacingAndGlyphs" stroke="#383838" stroke-width="0.1">5</text>
<line x1="103.05" y1="366.30" x2="103.05" y2="369.30" stroke="#1e1e1e" stroke-width="1"/>
<text x="103.05" y="378.00" font-size="5.9" fill="#383838" text-anchor="middle" textLength="3.30" lengthAdjust="spacingAndGlyphs" stroke="#383838" stroke-width="0.1">6</text>
<line x1="117.30" y1="366.30" x2="117.30" y2="369.30" stroke="#1e1e1e" stroke-width="1"/>
<text x="117.30" y="378.00" font-size="5.9" fill="#383838" text-anchor="middle" textLength="3.30" lengthAdjust="spacingAndGlyphs" stroke="#383838" stroke-width="0.1">7</text>
<line x1="131.55" y1="366.30" x2="131.55" y2="369.30" stroke="#1e1e1e" stroke-width="1"/>
<text x="131.55" y="378.00" font-size="5.9" fill="#383838" text-anchor="middle" textLength="3.30" lengthAdjust="spacingAndGlyphs" stroke="#383838" stroke-width="0.1">8</text>
<line x1="145.80" y1="366.30" x2="145.80" y2="369.30" stroke="#1e1e1e" stroke-width="1"/>
<text x="145.80" y="378.00" font-size="5.9" fill="#383838" text-anchor="middle" textLength="3.30" lengthAdjust="spacingAndGlyphs" stroke="#383838" stroke-width="0.1">9</text>
<path d="M46.50,364.01 L47.00,362.97 L47.50,363.81 L48.00,363.08 L48.50,364.50 L49.00,364.86 L49.50,364.64 L50.00,365.41 L50.50,364.45 L51.00,365.37 L51.50,365.32 L52.00,365.45 L52.50,365.34 L53.00,366.25 L53.50,366.59 L54.00,365.78 L54.50,366.27 L55.00,365.18 L55.50,366.57 L56.00,366.57 L56.50,367.36 L57.00,367.12 L57.50,366.15 L58.00,366.45 L58.50,367.12 L59.00,365.92 L59.50,366.90" fill="none" stroke="#1D5D92" stroke-width="1.9" stroke-linejoin="round"/>
<path d="M46.50,362.44 L47.00,362.50 L47.50,362.55 L48.00,364.13 L48.50,363.02 L49.00,363.42 L49.50,363.87 L50.00,365.00 L50.50,363.58 L51.00,364.47 L51.50,364.83 L52.00,365.65 L52.50,365.67 L53.00,365.90 L53.50,364.86 L54.00,365.27 L54.50,365.28 L55.00,366.45 L55.50,366.71 L56.00,365.21 L56.50,365.37 L57.00,365.60 L57.50,365.71 L58.00,366.32 L58.50,366.64 L59.00,366.09 L59.50,365.69" fill="none" stroke="#EE9B33" stroke-width="1.9" stroke-linejoin="round"/>
<path d="M61.00,361.42 L61.50,361.19 L62.00,361.50 L62.50,362.23 L63.00,361.53 L63.50,361.03 L64.00,361.13 L64.50,361.14 L65.00,359.65 L65.50,361.40 L66.00,361.02 L66.50,361.11 L67.00,360.84 L67.50,359.84 L68.00,359.77 L68.50,359.03 L69.00,360.12 L69.50,358.79 L70.00,358.72 L70.50,358.97 L71.00,358.79 L71.50,359.11 L72.00,358.40 L72.50,358.19 L73.00,358.42 L73.50,358.20 L74.00,358.64 L74.50,357.75 L75.00,359.45 L75.50,358.70 L76.00,357.47 L76.50,357.49 L77.00,357.48 L77.50,357.30 L78.00,356.54 L78.50,357.90 L79.00,357.96 L79.50,356.54 L80.00,356.31 L80.50,355.16 L81.00,354.94 L81.50,355.21 L82.00,354.79 L82.50,355.79 L83.00,354.09 L83.50,353.55 L84.00,355.36 L84.50,354.18 L85.00,353.07 L85.50,353.65 L86.00,352.19 L86.50,352.90 L87.00,353.46 L87.50,352.76 L88.00,351.97 L88.50,350.62 L89.00,350.50 L89.50,349.72 L90.00,350.73 L90.50,349.88 L91.00,350.11 L91.50,348.83 L92.00,348.33 L92.50,349.38 L93.00,349.56 L93.50,349.12 L94.00,348.94 L94.50,348.92 L95.00,348.69 L95.50,347.47 L96.00,347.97 L96.50,347.44 L97.00,346.52 L97.50,346.31 L98.00,346.65 L98.50,346.41 L99.00,347.18 L99.50,347.60 L100.00,346.34 L100.50,347.29 L101.00,347.27 L101.50,347.07 L102.00,345.65 L102.50,345.22 L103.00,345.12 L103.50,344.94 L104.00,344.85 L104.50,345.66 L105.00,346.16 L105.50,345.92 L106.00,345.01 L106.50,345.29 L107.00,345.50 L107.50,343.82 L108.00,344.99 L108.50,345.44 L109.00,345.06 L109.50,344.90 L110.00,344.22 L110.50,343.48 L111.00,344.75 L111.50,343.68 L112.00,344.66 L112.50,344.98 L113.00,343.67 L113.50,343.63 L114.00,344.79 L114.50,344.25 L115.00,342.98 L115.50,342.83 L116.00,342.82 L116.50,344.41 L117.00,344.12 L117.50,342.59 L118.00,344.01 L118.50,344.27 L119.00,343.49 L119.50,342.73 L120.00,343.10 L120.50,342.11 L121.00,341.78 L121.50,343.82 L122.00,343.06 L122.50,342.74 L123.00,343.59 L123.50,342.44 L124.00,343.36 L124.50,343.22 L125.00,341.83 L125.50,341.87 L126.00,341.92 L126.50,341.76 L127.00,342.47 L127.50,341.70 L128.00,341.99 L128.50,341.30 L129.00,342.95 L129.50,341.67 L130.00,341.84 L130.50,342.06 L131.00,342.71 L131.50,341.60 L132.00,342.65 L132.50,341.69 L133.00,341.72 L133.50,341.67 L134.00,340.53 L134.50,341.43 L135.00,340.84 L135.50,340.43 L136.00,342.15 L136.50,340.75 L137.00,341.39 L137.50,341.91 L138.00,341.51 L138.50,340.96 L139.00,341.34 L139.50,341.38 L140.00,341.83 L140.50,340.29 L141.00,341.24 L141.50,340.51 L142.00,340.54 L142.50,341.61 L143.00,341.02 L143.50,341.15 L144.00,341.63 L144.50,342.02 L145.00,341.07 L145.50,341.54 L146.00,341.40 L146.50,341.53 L147.00,342.02" fill="none" stroke="#1D5D92" stroke-width="1.9" stroke-linejoin="round"/>
<path d="M61.00,360.50 L61.50,360.55 L62.00,360.31 L62.50,361.21 L63.00,360.56 L63.50,360.83 L64.00,360.86 L64.50,359.24 L65.00,359.78 L65.50,360.51 L66.00,360.17 L66.50,358.50 L67.00,358.36 L67.50,358.95 L68.00,358.04 L68.50,358.33 L69.00,357.88 L69.50,359.13 L70.00,359.31 L70.50,359.48 L71.00,357.75 L71.50,358.88 L72.00,358.60 L72.50,357.27 L73.00,358.64 L73.50,358.51 L74.00,356.48 L74.50,357.64 L75.00,355.89 L75.50,355.47 L76.00,355.79 L76.50,354.37 L77.00,351.74 L77.50,351.35 L78.00,350.67 L78.50,349.42 L79.00,348.29 L79.50,347.81 L80.00,348.00 L80.50,345.84 L81.00,346.48 L81.50,345.75 L82.00,344.37 L82.50,344.64 L83.00,344.88 L83.50,344.25 L84.00,342.89 L84.50,344.54 L85.00,343.74 L85.50,343.80 L86.00,341.56 L86.50,341.59 L87.00,340.78 L87.50,342.11 L88.00,340.70 L88.50,340.10 L89.00,340.46 L89.50,341.27 L90.00,340.80 L90.50,339.31 L91.00,338.83 L91.50,340.28 L92.00,339.28 L92.50,339.33 L93.00,337.77 L93.50,337.50 L94.00,338.70 L94.50,337.95 L95.00,336.99 L95.50,338.69 L96.00,337.80 L96.50,337.92 L97.00,336.07 L97.50,337.50 L98.00,335.49 L98.50,336.98 L99.00,335.83 L99.50,335.35 L100.00,335.59 L100.50,336.19 L101.00,334.51 L101.50,333.99 L102.00,334.65 L102.50,333.80 L103.00,333.32 L103.50,333.24 L104.00,332.81 L104.50,332.97 L105.00,333.06 L105.50,332.90 L106.00,333.78 L106.50,332.64 L107.00,333.00 L107.50,332.20 L108.00,332.48 L108.50,331.68 L109.00,332.10 L109.50,331.50 L110.00,332.99 L110.50,332.49 L111.00,331.60 L111.50,332.12 L112.00,333.04 L112.50,331.11 L113.00,332.58 L113.50,331.63 L114.00,331.67 L114.50,332.32 L115.00,331.24 L115.50,331.39 L116.00,331.69 L116.50,332.24 L117.00,330.72 L117.50,331.69 L118.00,331.31 L118.50,331.05 L119.00,330.43 L119.50,330.20 L120.00,329.46 L120.50,329.53 L121.00,329.32 L121.50,330.72 L122.00,329.58 L122.50,329.32 L123.00,329.10 L123.50,330.72 L124.00,330.74 L124.50,330.26 L125.00,329.37 L125.50,329.25 L126.00,329.32 L126.50,329.64 L127.00,328.93 L127.50,329.51 L128.00,329.06 L128.50,330.54 L129.00,330.52 L129.50,329.53 L130.00,328.81 L130.50,330.34 L131.00,328.84 L131.50,328.88 L132.00,328.04 L132.50,328.81 L133.00,328.95 L133.50,328.94 L134.00,328.20 L134.50,328.79 L135.00,327.61 L135.50,328.11 L136.00,327.65 L136.50,328.25 L137.00,327.40 L137.50,327.29 L138.00,327.85 L138.50,327.63 L139.00,328.35 L139.50,328.17 L140.00,328.61 L140.50,328.35 L141.00,328.44 L141.50,328.75 L142.00,327.64 L142.50,327.46 L143.00,328.88 L143.50,327.02 L144.00,328.27 L144.50,328.08 L145.00,326.76 L145.50,328.51 L146.00,328.64 L146.50,328.06 L147.00,328.31" fill="none" stroke="#EE9B33" stroke-width="1.9" stroke-linejoin="round"/>
<line x1="60.40" y1="366.50" x2="60.40" y2="352.00" stroke="#EDB035" stroke-width="0.8"/>
<line x1="45.30" y1="317.00" x2="45.30" y2="376.60" stroke="#1e1e1e" stroke-width="1.1"/>
<line x1="45.30" y1="366.30" x2="147.40" y2="366.30" stroke="#1e1e1e" stroke-width="1.1"/>
<path d="M57.50,385.40 L63.10,385.40 L60.30,381.50 Z" fill="#B01E3C"/>
<text x="96.80" y="312.00" font-size="8.8" fill="#2e2e2e" text-anchor="middle" textLength="20.70" lengthAdjust="spacingAndGlyphs" stroke="#2e2e2e" stroke-width="0.15">Day 3</text>
<text x="105.20" y="389.60" font-size="7.4" fill="#2a2a2a" text-anchor="middle" textLength="38.40" lengthAdjust="spacingAndGlyphs" stroke="#2a2a2a" stroke-width="0.24">Time (minutes)</text>
<text transform="translate(12.90,346.40) rotate(-90)" x="0" y="0" font-size="7.0" fill="#2a2a2a" text-anchor="middle" textLength="64.50" lengthAdjust="spacingAndGlyphs" stroke="#2a2a2a" stroke-width="0.18">Aggregometry impedance</text>
<text transform="translate(22.80,346.40) rotate(-90)" x="0" y="0" font-size="7.0" fill="#2a2a2a" text-anchor="middle" textLength="45.50" lengthAdjust="spacingAndGlyphs" stroke="#2a2a2a" stroke-width="0.18">(impedance units)</text>
<line x1="170.90" y1="323.80" x2="174.20" y2="323.80" stroke="#1e1e1e" stroke-width="1"/>
<text x="168.60" y="325.90" font-size="5.9" fill="#383838" text-anchor="end" textLength="10.35" lengthAdjust="spacingAndGlyphs" stroke="#383838" stroke-width="0.1">160</text>
<line x1="170.90" y1="333.80" x2="174.20" y2="333.80" stroke="#1e1e1e" stroke-width="1"/>
<text x="168.60" y="335.90" font-size="5.9" fill="#383838" text-anchor="end" textLength="10.35" lengthAdjust="spacingAndGlyphs" stroke="#383838" stroke-width="0.1">120</text>
<line x1="170.90" y1="343.80" x2="174.20" y2="343.80" stroke="#1e1e1e" stroke-width="1"/>
<text x="168.60" y="345.90" font-size="5.9" fill="#383838" text-anchor="end" textLength="6.90" lengthAdjust="spacingAndGlyphs" stroke="#383838" stroke-width="0.1">80</text>
<line x1="170.90" y1="353.80" x2="174.20" y2="353.80" stroke="#1e1e1e" stroke-width="1"/>
<text x="168.60" y="355.90" font-size="5.9" fill="#383838" text-anchor="end" textLength="6.90" lengthAdjust="spacingAndGlyphs" stroke="#383838" stroke-width="0.1">40</text>
<line x1="170.90" y1="363.80" x2="174.20" y2="363.80" stroke="#1e1e1e" stroke-width="1"/>
<text x="168.60" y="365.90" font-size="5.9" fill="#383838" text-anchor="end" textLength="3.45" lengthAdjust="spacingAndGlyphs" stroke="#383838" stroke-width="0.1">0</text>
<line x1="170.90" y1="373.80" x2="174.20" y2="373.80" stroke="#1e1e1e" stroke-width="1"/>
<text x="168.60" y="375.90" font-size="5.9" fill="#383838" text-anchor="end" textLength="10.20" lengthAdjust="spacingAndGlyphs" stroke="#383838" stroke-width="0.1">−40</text>
<line x1="189.60" y1="363.80" x2="189.60" y2="366.80" stroke="#1e1e1e" stroke-width="1"/>
<text x="189.60" y="375.50" font-size="5.9" fill="#383838" text-anchor="middle" textLength="3.30" lengthAdjust="spacingAndGlyphs" stroke="#383838" stroke-width="0.1">3</text>
<line x1="203.75" y1="363.80" x2="203.75" y2="366.80" stroke="#1e1e1e" stroke-width="1"/>
<text x="203.75" y="375.50" font-size="5.9" fill="#383838" text-anchor="middle" textLength="3.30" lengthAdjust="spacingAndGlyphs" stroke="#383838" stroke-width="0.1">4</text>
<line x1="217.90" y1="363.80" x2="217.90" y2="366.80" stroke="#1e1e1e" stroke-width="1"/>
<text x="217.90" y="375.50" font-size="5.9" fill="#383838" text-anchor="middle" textLength="3.30" lengthAdjust="spacingAndGlyphs" stroke="#383838" stroke-width="0.1">5</text>
<line x1="232.05" y1="363.80" x2="232.05" y2="366.80" stroke="#1e1e1e" stroke-width="1"/>
<text x="232.05" y="375.50" font-size="5.9" fill="#383838" text-anchor="middle" textLength="3.30" lengthAdjust="spacingAndGlyphs" stroke="#383838" stroke-width="0.1">6</text>
<line x1="246.20" y1="363.80" x2="246.20" y2="366.80" stroke="#1e1e1e" stroke-width="1"/>
<text x="246.20" y="375.50" font-size="5.9" fill="#383838" text-anchor="middle" textLength="3.30" lengthAdjust="spacingAndGlyphs" stroke="#383838" stroke-width="0.1">7</text>
<line x1="260.35" y1="363.80" x2="260.35" y2="366.80" stroke="#1e1e1e" stroke-width="1"/>
<text x="260.35" y="375.50" font-size="5.9" fill="#383838" text-anchor="middle" textLength="3.30" lengthAdjust="spacingAndGlyphs" stroke="#383838" stroke-width="0.1">8</text>
<line x1="274.50" y1="363.80" x2="274.50" y2="366.80" stroke="#1e1e1e" stroke-width="1"/>
<text x="274.50" y="375.50" font-size="5.9" fill="#383838" text-anchor="middle" textLength="3.30" lengthAdjust="spacingAndGlyphs" stroke="#383838" stroke-width="0.1">9</text>
<path d="M175.30,362.31 L175.80,360.74 L176.30,361.92 L176.80,362.06 L177.30,363.10 L177.80,363.20 L178.30,363.44 L178.80,362.99 L179.30,363.97 L179.80,363.60 L180.30,363.80 L180.80,362.76 L181.30,362.42 L181.80,362.85 L182.30,363.60 L182.80,363.09 L183.30,365.14 L183.80,364.57 L184.30,364.90 L184.80,365.04 L185.30,365.32 L185.80,364.97 L186.30,363.85 L186.80,366.06 L187.30,366.07 L187.80,365.58 L188.30,365.80" fill="none" stroke="#1D5D92" stroke-width="1.9" stroke-linejoin="round"/>
<path d="M175.30,361.05 L175.80,359.92 L176.30,361.56 L176.80,360.67 L177.30,360.45 L177.80,361.04 L178.30,362.23 L178.80,361.25 L179.30,362.60 L179.80,363.28 L180.30,362.39 L180.80,362.31 L181.30,362.69 L181.80,363.30 L182.30,363.65 L182.80,363.48 L183.30,363.69 L183.80,362.60 L184.30,362.91 L184.80,363.30 L185.30,364.53 L185.80,363.72 L186.30,364.45 L186.80,363.38 L187.30,363.64 L187.80,364.25 L188.30,365.29" fill="none" stroke="#EE9B33" stroke-width="1.9" stroke-linejoin="round"/>
<path d="M190.40,354.98 L190.90,354.67 L191.40,353.27 L191.90,353.69 L192.40,353.28 L192.90,353.03 L193.40,351.74 L193.90,353.81 L194.40,351.47 L194.90,353.56 L195.40,353.18 L195.90,350.16 L196.40,351.23 L196.90,352.06 L197.40,352.25 L197.90,350.43 L198.40,349.63 L198.90,349.19 L199.40,351.14 L199.90,348.66 L200.40,349.51 L200.90,347.92 L201.40,348.79 L201.90,349.80 L202.40,347.06 L202.90,348.85 L203.40,347.63 L203.90,348.49 L204.40,347.66 L204.90,345.96 L205.40,347.68 L205.90,346.17 L206.40,344.51 L206.90,344.17 L207.40,345.35 L207.90,344.95 L208.40,344.22 L208.90,343.46 L209.40,343.78 L209.90,343.41 L210.40,344.70 L210.90,341.90 L211.40,343.87 L211.90,343.86 L212.40,341.42 L212.90,343.57 L213.40,342.66 L213.90,342.96 L214.40,340.86 L214.90,340.86 L215.40,340.67 L215.90,342.25 L216.40,340.80 L216.90,339.89 L217.40,339.89 L217.90,339.22 L218.40,338.35 L218.90,338.31 L219.40,340.33 L219.90,338.50 L220.40,340.26 L220.90,338.02 L221.40,337.89 L221.90,338.45 L222.40,337.30 L222.90,337.66 L223.40,339.21 L223.90,338.79 L224.40,338.36 L224.90,337.60 L225.40,338.22 L225.90,338.07 L226.40,336.65 L226.90,336.92 L227.40,334.66 L227.90,336.46 L228.40,335.38 L228.90,336.04 L229.40,335.48 L229.90,334.16 L230.40,333.19 L230.90,335.54 L231.40,332.86 L231.90,333.61 L232.40,332.98 L232.90,332.62 L233.40,333.75 L233.90,334.29 L234.40,332.01 L234.90,333.07 L235.40,331.90 L235.90,332.57 L236.40,332.00 L236.90,331.24 L237.40,331.14 L237.90,331.22 L238.40,333.24 L238.90,331.96 L239.40,331.07 L239.90,333.07 L240.40,333.29 L240.90,331.60 L241.40,330.61 L241.90,330.72 L242.40,330.37 L242.90,331.08 L243.40,330.28 L243.90,330.69 L244.40,330.70 L244.90,331.59 L245.40,332.50 L245.90,332.05 L246.40,331.00 L246.90,330.97 L247.40,331.27 L247.90,330.80 L248.40,330.66 L248.90,329.81 L249.40,330.44 L249.90,332.49 L250.40,329.95 L250.90,331.06 L251.40,331.42 L251.90,332.11 L252.40,330.15 L252.90,330.30 L253.40,330.22 L253.90,330.65 L254.40,330.77 L254.90,332.27 L255.40,331.93 L255.90,331.98 L256.40,329.39 L256.90,329.39 L257.40,331.38 L257.90,331.90 L258.40,330.59 L258.90,330.89 L259.40,329.08 L259.90,330.20 L260.40,331.76 L260.90,331.41 L261.40,331.44 L261.90,331.74 L262.40,329.52 L262.90,329.05 L263.40,329.13 L263.90,330.18 L264.40,330.60 L264.90,331.33 L265.40,330.61 L265.90,330.34 L266.40,330.64 L266.90,329.66 L267.40,329.89 L267.90,328.31 L268.40,330.49 L268.90,328.79 L269.40,330.81 L269.90,329.94 L270.40,328.87 L270.90,328.30 L271.40,328.63 L271.90,329.73 L272.40,329.88 L272.90,328.08 L273.40,327.91 L273.90,329.23 L274.40,329.36" fill="none" stroke="#1D5D92" stroke-width="1.9" stroke-linejoin="round"/>
<path d="M190.40,355.32 L190.90,354.55 L191.40,355.62 L191.90,353.40 L192.40,354.17 L192.90,354.48 L193.40,355.92 L193.90,354.59 L194.40,355.13 L194.90,353.45 L195.40,352.34 L195.90,352.08 L196.40,354.20 L196.90,353.03 L197.40,351.37 L197.90,350.09 L198.40,351.40 L198.90,351.70 L199.40,350.53 L199.90,349.67 L200.40,350.76 L200.90,351.33 L201.40,348.65 L201.90,347.68 L202.40,348.41 L202.90,348.38 L203.40,348.97 L203.90,347.02 L204.40,348.75 L204.90,348.25 L205.40,347.16 L205.90,345.84 L206.40,348.14 L206.90,345.61 L207.40,347.04 L207.90,344.75 L208.40,344.42 L208.90,345.97 L209.40,344.10 L209.90,346.06 L210.40,344.23 L210.90,342.92 L211.40,342.78 L211.90,343.19 L212.40,343.79 L212.90,344.51 L213.40,341.54 L213.90,342.13 L214.40,341.27 L214.90,343.60 L215.40,340.50 L215.90,339.92 L216.40,339.67 L216.90,340.51 L217.40,341.94 L217.90,341.60 L218.40,340.79 L218.90,341.39 L219.40,340.86 L219.90,338.49 L220.40,337.68 L220.90,339.89 L221.40,338.88 L221.90,336.03 L222.40,337.67 L222.90,336.14 L223.40,335.64 L223.90,335.10 L224.40,334.20 L224.90,333.31 L225.40,333.94 L225.90,333.88 L226.40,335.63 L226.90,332.52 L227.40,335.09 L227.90,332.24 L228.40,332.48 L228.90,333.80 L229.40,333.55 L229.90,331.98 L230.40,330.43 L230.90,331.64 L231.40,331.08 L231.90,332.72 L232.40,330.05 L232.90,330.43 L233.40,332.05 L233.90,328.93 L234.40,330.06 L234.90,331.26 L235.40,330.97 L235.90,328.37 L236.40,328.24 L236.90,328.23 L237.40,331.05 L237.90,328.71 L238.40,330.29 L238.90,330.72 L239.40,328.74 L239.90,328.42 L240.40,330.66 L240.90,329.39 L241.40,328.08 L241.90,329.52 L242.40,328.05 L242.90,327.80 L243.40,326.77 L243.90,329.23 L244.40,329.67 L244.90,328.62 L245.40,329.59 L245.90,326.38 L246.40,327.03 L246.90,327.79 L247.40,329.37 L247.90,329.32 L248.40,327.35 L248.90,326.85 L249.40,327.42 L249.90,327.60 L250.40,329.04 L250.90,326.46 L251.40,328.53 L251.90,328.27 L252.40,328.51 L252.90,328.29 L253.40,327.68 L253.90,326.69 L254.40,326.62 L254.90,326.71 L255.40,328.10 L255.90,325.66 L256.40,326.01 L256.90,327.85 L257.40,326.08 L257.90,325.40 L258.40,325.24 L258.90,326.95 L259.40,326.12 L259.90,328.29 L260.40,327.91 L260.90,328.21 L261.40,325.69 L261.90,325.03 L262.40,325.02 L262.90,326.34 L263.40,327.01 L263.90,326.07 L264.40,325.30 L264.90,325.87 L265.40,326.52 L265.90,326.66 L266.40,326.87 L266.90,327.16 L267.40,326.49 L267.90,324.60 L268.40,327.00 L268.90,325.10 L269.40,325.98 L269.90,325.28 L270.40,326.48 L270.90,324.60 L271.40,324.72 L271.90,324.67 L272.40,324.31 L272.90,326.75 L273.40,325.66 L273.90,324.76 L274.40,324.96" fill="none" stroke="#EE9B33" stroke-width="1.9" stroke-linejoin="round"/>
<line x1="189.40" y1="365.20" x2="189.40" y2="349.20" stroke="#2F74A8" stroke-width="0.8"/>
<line x1="174.20" y1="317.50" x2="174.20" y2="376.80" stroke="#1e1e1e" stroke-width="1.1"/>
<line x1="174.20" y1="363.80" x2="276.70" y2="363.80" stroke="#1e1e1e" stroke-width="1.1"/>
<path d="M186.80,382.90 L192.40,382.90 L189.60,379.00 Z" fill="#B01E3C"/>
<text x="226.40" y="312.60" font-size="8.8" fill="#2e2e2e" text-anchor="middle" textLength="20.70" lengthAdjust="spacingAndGlyphs" stroke="#2e2e2e" stroke-width="0.15">Day 5</text>
<text x="231.80" y="389.70" font-size="7.4" fill="#2a2a2a" text-anchor="middle" textLength="38.40" lengthAdjust="spacingAndGlyphs" stroke="#2a2a2a" stroke-width="0.24">Time (minutes)</text>
<line x1="299.60" y1="319.30" x2="302.90" y2="319.30" stroke="#1e1e1e" stroke-width="1"/>
<text x="297.30" y="321.40" font-size="5.9" fill="#383838" text-anchor="end" textLength="10.35" lengthAdjust="spacingAndGlyphs" stroke="#383838" stroke-width="0.1">120</text>
<line x1="299.60" y1="332.80" x2="302.90" y2="332.80" stroke="#1e1e1e" stroke-width="1"/>
<text x="297.30" y="334.90" font-size="5.9" fill="#383838" text-anchor="end" textLength="6.90" lengthAdjust="spacingAndGlyphs" stroke="#383838" stroke-width="0.1">80</text>
<line x1="299.60" y1="346.30" x2="302.90" y2="346.30" stroke="#1e1e1e" stroke-width="1"/>
<text x="297.30" y="348.40" font-size="5.9" fill="#383838" text-anchor="end" textLength="6.90" lengthAdjust="spacingAndGlyphs" stroke="#383838" stroke-width="0.1">40</text>
<line x1="299.60" y1="359.80" x2="302.90" y2="359.80" stroke="#1e1e1e" stroke-width="1"/>
<text x="297.30" y="361.90" font-size="5.9" fill="#383838" text-anchor="end" textLength="3.45" lengthAdjust="spacingAndGlyphs" stroke="#383838" stroke-width="0.1">0</text>
<line x1="299.60" y1="373.30" x2="302.90" y2="373.30" stroke="#1e1e1e" stroke-width="1"/>
<text x="297.30" y="375.40" font-size="5.9" fill="#383838" text-anchor="end" textLength="10.20" lengthAdjust="spacingAndGlyphs" stroke="#383838" stroke-width="0.1">−40</text>
<line x1="318.50" y1="359.80" x2="318.50" y2="362.80" stroke="#1e1e1e" stroke-width="1"/>
<text x="318.50" y="371.50" font-size="5.9" fill="#383838" text-anchor="middle" textLength="3.30" lengthAdjust="spacingAndGlyphs" stroke="#383838" stroke-width="0.1">3</text>
<line x1="332.75" y1="359.80" x2="332.75" y2="362.80" stroke="#1e1e1e" stroke-width="1"/>
<text x="332.75" y="371.50" font-size="5.9" fill="#383838" text-anchor="middle" textLength="3.30" lengthAdjust="spacingAndGlyphs" stroke="#383838" stroke-width="0.1">4</text>
<line x1="347.00" y1="359.80" x2="347.00" y2="362.80" stroke="#1e1e1e" stroke-width="1"/>
<text x="347.00" y="371.50" font-size="5.9" fill="#383838" text-anchor="middle" textLength="3.30" lengthAdjust="spacingAndGlyphs" stroke="#383838" stroke-width="0.1">5</text>
<line x1="361.25" y1="359.80" x2="361.25" y2="362.80" stroke="#1e1e1e" stroke-width="1"/>
<text x="361.25" y="371.50" font-size="5.9" fill="#383838" text-anchor="middle" textLength="3.30" lengthAdjust="spacingAndGlyphs" stroke="#383838" stroke-width="0.1">6</text>
<line x1="375.50" y1="359.80" x2="375.50" y2="362.80" stroke="#1e1e1e" stroke-width="1"/>
<text x="375.50" y="371.50" font-size="5.9" fill="#383838" text-anchor="middle" textLength="3.30" lengthAdjust="spacingAndGlyphs" stroke="#383838" stroke-width="0.1">7</text>
<line x1="389.75" y1="359.80" x2="389.75" y2="362.80" stroke="#1e1e1e" stroke-width="1"/>
<text x="389.75" y="371.50" font-size="5.9" fill="#383838" text-anchor="middle" textLength="3.30" lengthAdjust="spacingAndGlyphs" stroke="#383838" stroke-width="0.1">8</text>
<line x1="404.00" y1="359.80" x2="404.00" y2="362.80" stroke="#1e1e1e" stroke-width="1"/>
<text x="404.00" y="371.50" font-size="5.9" fill="#383838" text-anchor="middle" textLength="3.30" lengthAdjust="spacingAndGlyphs" stroke="#383838" stroke-width="0.1">9</text>
<path d="M303.60,356.97 L304.10,355.53 L304.60,354.85 L305.10,357.24 L305.60,356.99 L306.10,358.51 L306.60,355.62 L307.10,357.27 L307.60,358.81 L308.10,359.19 L308.60,359.76 L309.10,356.91 L309.60,358.12 L310.10,357.78 L310.60,358.31 L311.10,361.41 L311.60,360.27 L312.10,361.78 L312.60,360.03 L313.10,362.06 L313.60,360.81 L314.10,360.37 L314.60,362.48 L315.10,363.32 L315.60,360.53 L316.10,362.54 L316.60,362.86 L317.10,361.65 L317.60,362.43" fill="none" stroke="#1D5D92" stroke-width="1.9" stroke-linejoin="round"/>
<path d="M303.60,353.55 L304.10,354.04 L304.60,354.48 L305.10,355.87 L305.60,356.32 L306.10,355.17 L306.60,354.84 L307.10,356.13 L307.60,357.54 L308.10,356.24 L308.60,356.93 L309.10,356.86 L309.60,359.03 L310.10,358.52 L310.60,357.24 L311.10,357.63 L311.60,358.84 L312.10,359.60 L312.60,360.15 L313.10,358.66 L313.60,359.15 L314.10,361.12 L314.60,360.46 L315.10,360.31 L315.60,360.65 L316.10,362.97 L316.60,361.18 L317.10,362.25 L317.60,361.84" fill="none" stroke="#EE9B33" stroke-width="1.9" stroke-linejoin="round"/>
<path d="M319.60,348.20 L320.10,350.19 L320.60,350.66 L321.10,347.46 L321.60,346.50 L322.10,348.89 L322.60,346.21 L323.10,345.10 L323.60,349.23 L324.10,346.78 L324.60,348.51 L325.10,346.36 L325.60,348.48 L326.10,346.28 L326.60,344.67 L327.10,343.78 L327.60,346.17 L328.10,346.40 L328.60,347.49 L329.10,343.33 L329.60,345.67 L330.10,344.23 L330.60,344.64 L331.10,342.68 L331.60,343.11 L332.10,344.02 L332.60,345.73 L333.10,341.59 L333.60,343.20 L334.10,344.48 L334.60,345.02 L335.10,341.10 L335.60,340.53 L336.10,344.23 L336.60,344.17 L337.10,341.59 L337.60,339.32 L338.10,343.32 L338.60,340.56 L339.10,342.86 L339.60,341.33 L340.10,342.16 L340.60,338.82 L341.10,341.67 L341.60,338.83 L342.10,339.57 L342.60,341.56 L343.10,341.35 L343.60,338.13 L344.10,338.17 L344.60,338.93 L345.10,339.37 L345.60,338.61 L346.10,337.25 L346.60,337.74 L347.10,339.94 L347.60,340.68 L348.10,336.50 L348.60,338.95 L349.10,339.84 L349.60,336.37 L350.10,340.22 L350.60,336.79 L351.10,339.14 L351.60,338.96 L352.10,339.39 L352.60,337.91 L353.10,338.52 L353.60,339.34 L354.10,338.62 L354.60,339.76 L355.10,338.75 L355.60,338.72 L356.10,336.73 L356.60,339.59 L357.10,338.97 L357.60,337.74 L358.10,340.28 L358.60,340.35 L359.10,338.80 L359.60,337.45 L360.10,338.85 L360.60,337.08 L361.10,337.17 L361.60,338.61 L362.10,336.96 L362.60,338.63 L363.10,338.94 L363.60,336.66 L364.10,339.50 L364.60,336.81 L365.10,339.90 L365.60,340.08 L366.10,338.77 L366.60,336.54 L367.10,338.66 L367.60,338.02 L368.10,340.73 L368.60,336.79 L369.10,340.22 L369.60,340.85 L370.10,339.56 L370.60,339.94 L371.10,336.93 L371.60,340.70 L372.10,338.34 L372.60,340.57 L373.10,340.38 L373.60,336.79 L374.10,339.80 L374.60,340.51 L375.10,336.40 L375.60,337.82 L376.10,339.82 L376.60,337.01 L377.10,340.62 L377.60,337.71 L378.10,340.38 L378.60,337.24 L379.10,339.04 L379.60,341.13 L380.10,337.79 L380.60,338.14 L381.10,339.38 L381.60,338.56 L382.10,337.28 L382.60,338.05 L383.10,338.01 L383.60,341.79 L384.10,340.60 L384.60,341.68 L385.10,338.22 L385.60,341.20 L386.10,338.01 L386.60,340.01 L387.10,340.52 L387.60,339.20 L388.10,341.65 L388.60,340.12 L389.10,340.23 L389.60,341.67 L390.10,337.92 L390.60,342.17 L391.10,340.42 L391.60,339.27 L392.10,341.20 L392.60,338.63 L393.10,342.10 L393.60,340.12 L394.10,339.08 L394.60,341.02 L395.10,339.50 L395.60,338.24 L396.10,340.99 L396.60,337.70 L397.10,341.44 L397.60,338.78 L398.10,340.69 L398.60,342.40 L399.10,340.56 L399.60,341.00 L400.10,339.39 L400.60,337.97 L401.10,338.20 L401.60,338.84 L402.10,341.16 L402.60,340.37 L403.10,340.84 L403.60,342.76 L404.10,339.17" fill="none" stroke="#1D5D92" stroke-width="1.9" stroke-linejoin="round"/>
<path d="M319.60,349.05 L320.10,350.83 L320.60,347.75 L321.10,347.49 L321.60,348.94 L322.10,347.63 L322.60,348.61 L323.10,347.82 L323.60,349.30 L324.10,349.15 L324.60,347.20 L325.10,348.95 L325.60,348.08 L326.10,346.33 L326.60,349.83 L327.10,346.44 L327.60,345.80 L328.10,345.34 L328.60,347.61 L329.10,348.45 L329.60,347.80 L330.10,345.80 L330.60,344.91 L331.10,343.48 L331.60,346.13 L332.10,345.47 L332.60,344.22 L333.10,345.30 L333.60,344.09 L334.10,346.07 L334.60,344.83 L335.10,342.30 L335.60,345.01 L336.10,340.75 L336.60,342.68 L337.10,341.80 L337.60,340.72 L338.10,339.59 L338.60,342.60 L339.10,338.77 L339.60,340.94 L340.10,342.43 L340.60,338.45 L341.10,338.40 L341.60,339.98 L342.10,339.21 L342.60,339.54 L343.10,340.04 L343.60,336.82 L344.10,337.16 L344.60,336.84 L345.10,335.41 L345.60,339.01 L346.10,338.25 L346.60,337.68 L347.10,334.16 L347.60,337.78 L348.10,337.09 L348.60,335.58 L349.10,336.65 L349.60,335.14 L350.10,333.92 L350.60,333.20 L351.10,333.64 L351.60,332.62 L352.10,333.86 L352.60,335.64 L353.10,335.27 L353.60,335.85 L354.10,335.12 L354.60,332.95 L355.10,334.15 L355.60,333.48 L356.10,334.98 L356.60,333.64 L357.10,332.32 L357.60,333.93 L358.10,335.30 L358.60,331.74 L359.10,334.68 L359.60,330.59 L360.10,331.61 L360.60,331.39 L361.10,333.63 L361.60,334.46 L362.10,333.46 L362.60,331.45 L363.10,333.92 L363.60,331.31 L364.10,330.83 L364.60,333.84 L365.10,332.51 L365.60,332.74 L366.10,332.55 L366.60,333.94 L367.10,331.55 L367.60,333.20 L368.10,332.50 L368.60,333.19 L369.10,331.21 L369.60,332.48 L370.10,331.73 L370.60,330.48 L371.10,330.00 L371.60,331.85 L372.10,329.30 L372.60,333.09 L373.10,329.53 L373.60,328.95 L374.10,329.28 L374.60,333.02 L375.10,330.30 L375.60,329.33 L376.10,328.78 L376.60,328.81 L377.10,331.77 L377.60,331.47 L378.10,331.73 L378.60,331.89 L379.10,328.78 L379.60,331.17 L380.10,330.10 L380.60,332.16 L381.10,332.15 L381.60,332.45 L382.10,328.63 L382.60,332.30 L383.10,332.49 L383.60,332.60 L384.10,328.73 L384.60,329.16 L385.10,328.70 L385.60,328.32 L386.10,332.03 L386.60,331.84 L387.10,331.00 L387.60,331.85 L388.10,330.94 L388.60,329.33 L389.10,328.44 L389.60,328.40 L390.10,331.41 L390.60,328.85 L391.10,329.35 L391.60,329.81 L392.10,327.93 L392.60,328.99 L393.10,329.09 L393.60,331.07 L394.10,329.45 L394.60,329.21 L395.10,332.16 L395.60,330.02 L396.10,331.61 L396.60,330.53 L397.10,327.82 L397.60,329.57 L398.10,329.67 L398.60,331.22 L399.10,329.26 L399.60,330.90 L400.10,330.14 L400.60,328.66 L401.10,331.64 L401.60,328.09 L402.10,331.45 L402.60,328.47 L403.10,327.70 L403.60,328.62 L404.10,331.20" fill="none" stroke="#EE9B33" stroke-width="1.9" stroke-linejoin="round"/>
<line x1="318.70" y1="362.30" x2="318.70" y2="345.90" stroke="#4F6F80" stroke-width="0.8"/>
<line x1="302.90" y1="317.50" x2="302.90" y2="376.80" stroke="#1e1e1e" stroke-width="1.1"/>
<line x1="302.90" y1="359.80" x2="406.70" y2="359.80" stroke="#1e1e1e" stroke-width="1.1"/>
<path d="M315.70,378.90 L321.30,378.90 L318.50,375.00 Z" fill="#B01E3C"/>
<text x="356.40" y="312.60" font-size="8.8" fill="#2e2e2e" text-anchor="middle" textLength="20.70" lengthAdjust="spacingAndGlyphs" stroke="#2e2e2e" stroke-width="0.15">Day 7</text>
<text x="364.90" y="389.80" font-size="7.4" fill="#2a2a2a" text-anchor="middle" textLength="38.40" lengthAdjust="spacingAndGlyphs" stroke="#2a2a2a" stroke-width="0.24">Time (minutes)</text>
<line x1="43.00" y1="425.80" x2="46.30" y2="425.80" stroke="#1e1e1e" stroke-width="1"/>
<text x="40.70" y="427.90" font-size="5.9" fill="#383838" text-anchor="end" textLength="10.35" lengthAdjust="spacingAndGlyphs" stroke="#383838" stroke-width="0.1">250</text>
<line x1="43.00" y1="434.80" x2="46.30" y2="434.80" stroke="#1e1e1e" stroke-width="1"/>
<text x="40.70" y="436.90" font-size="5.9" fill="#383838" text-anchor="end" textLength="10.35" lengthAdjust="spacingAndGlyphs" stroke="#383838" stroke-width="0.1">200</text>
<line x1="43.00" y1="443.80" x2="46.30" y2="443.80" stroke="#1e1e1e" stroke-width="1"/>
<text x="40.70" y="445.90" font-size="5.9" fill="#383838" text-anchor="end" textLength="10.35" lengthAdjust="spacingAndGlyphs" stroke="#383838" stroke-width="0.1">150</text>
<line x1="43.00" y1="452.80" x2="46.30" y2="452.80" stroke="#1e1e1e" stroke-width="1"/>
<text x="40.70" y="454.90" font-size="5.9" fill="#383838" text-anchor="end" textLength="10.35" lengthAdjust="spacingAndGlyphs" stroke="#383838" stroke-width="0.1">100</text>
<line x1="43.00" y1="461.80" x2="46.30" y2="461.80" stroke="#1e1e1e" stroke-width="1"/>
<text x="40.70" y="463.90" font-size="5.9" fill="#383838" text-anchor="end" textLength="6.90" lengthAdjust="spacingAndGlyphs" stroke="#383838" stroke-width="0.1">50</text>
<line x1="43.00" y1="470.80" x2="46.30" y2="470.80" stroke="#1e1e1e" stroke-width="1"/>
<text x="40.70" y="472.90" font-size="5.9" fill="#383838" text-anchor="end" textLength="3.45" lengthAdjust="spacingAndGlyphs" stroke="#383838" stroke-width="0.1">0</text>
<line x1="43.00" y1="479.80" x2="46.30" y2="479.80" stroke="#1e1e1e" stroke-width="1"/>
<text x="40.70" y="481.90" font-size="5.9" fill="#383838" text-anchor="end" textLength="10.20" lengthAdjust="spacingAndGlyphs" stroke="#383838" stroke-width="0.1">−50</text>
<line x1="60.60" y1="470.80" x2="60.60" y2="473.80" stroke="#1e1e1e" stroke-width="1"/>
<text x="60.60" y="482.50" font-size="5.9" fill="#383838" text-anchor="middle" textLength="3.30" lengthAdjust="spacingAndGlyphs" stroke="#383838" stroke-width="0.1">3</text>
<line x1="74.83" y1="470.80" x2="74.83" y2="473.80" stroke="#1e1e1e" stroke-width="1"/>
<text x="74.83" y="482.50" font-size="5.9" fill="#383838" text-anchor="middle" textLength="3.30" lengthAdjust="spacingAndGlyphs" stroke="#383838" stroke-width="0.1">4</text>
<line x1="89.06" y1="470.80" x2="89.06" y2="473.80" stroke="#1e1e1e" stroke-width="1"/>
<text x="89.06" y="482.50" font-size="5.9" fill="#383838" text-anchor="middle" textLength="3.30" lengthAdjust="spacingAndGlyphs" stroke="#383838" stroke-width="0.1">5</text>
<line x1="103.29" y1="470.80" x2="103.29" y2="473.80" stroke="#1e1e1e" stroke-width="1"/>
<text x="103.29" y="482.50" font-size="5.9" fill="#383838" text-anchor="middle" textLength="3.30" lengthAdjust="spacingAndGlyphs" stroke="#383838" stroke-width="0.1">6</text>
<line x1="117.52" y1="470.80" x2="117.52" y2="473.80" stroke="#1e1e1e" stroke-width="1"/>
<text x="117.52" y="482.50" font-size="5.9" fill="#383838" text-anchor="middle" textLength="3.30" lengthAdjust="spacingAndGlyphs" stroke="#383838" stroke-width="0.1">7</text>
<line x1="131.75" y1="470.80" x2="131.75" y2="473.80" stroke="#1e1e1e" stroke-width="1"/>
<text x="131.75" y="482.50" font-size="5.9" fill="#383838" text-anchor="middle" textLength="3.30" lengthAdjust="spacingAndGlyphs" stroke="#383838" stroke-width="0.1">8</text>
<line x1="145.98" y1="470.80" x2="145.98" y2="473.80" stroke="#1e1e1e" stroke-width="1"/>
<text x="145.98" y="482.50" font-size="5.9" fill="#383838" text-anchor="middle" textLength="3.30" lengthAdjust="spacingAndGlyphs" stroke="#383838" stroke-width="0.1">9</text>
<path d="M47.30,469.85 L47.80,467.89 L48.30,469.14 L48.80,469.32 L49.30,470.17 L49.80,469.00 L50.30,469.86 L50.80,469.72 L51.30,470.96 L51.80,469.88 L52.30,471.55 L52.80,470.27 L53.30,470.28 L53.80,471.51 L54.30,471.22 L54.80,470.51 L55.30,471.81 L55.80,470.73 L56.30,472.42 L56.80,472.36 L57.30,472.68 L57.80,472.45 L58.30,471.94 L58.80,472.12 L59.30,472.15 L59.80,473.27 L60.30,471.49 L60.80,473.22 L61.30,471.27 L61.80,471.61 L62.30,471.64 L62.80,472.94 L63.30,471.93 L63.80,471.51 L64.30,472.44 L64.80,470.80 L65.30,471.06 L65.80,470.93 L66.30,471.08 L66.80,470.68 L67.30,470.01 L67.80,468.86 L68.30,468.28 L68.80,467.32 L69.30,468.21 L69.80,467.15 L70.30,466.63 L70.80,464.60 L71.30,464.29 L71.80,464.03 L72.30,462.56 L72.80,460.54 L73.30,460.36 L73.80,460.47 L74.30,458.25 L74.80,457.38 L75.30,456.93 L75.80,457.19 L76.30,456.95 L76.80,454.94 L77.30,454.51 L77.80,454.31 L78.30,454.11 L78.80,454.19 L79.30,453.06 L79.80,453.10 L80.30,452.48 L80.80,453.89 L81.30,453.04 L81.80,451.34 L82.30,452.92 L82.80,450.70 L83.30,451.00 L83.80,452.00 L84.30,451.27 L84.80,450.82 L85.30,449.86 L85.80,449.03 L86.30,449.72 L86.80,448.27 L87.30,448.22 L87.80,448.35 L88.30,447.33 L88.80,447.91 L89.30,448.56 L89.80,448.14 L90.30,447.53 L90.80,447.63 L91.30,447.07 L91.80,446.17 L92.30,447.00 L92.80,446.36 L93.30,446.88 L93.80,447.03 L94.30,445.73 L94.80,445.80 L95.30,445.94 L95.80,444.96 L96.30,444.30 L96.80,445.15 L97.30,445.28 L97.80,444.84 L98.30,444.49 L98.80,444.64 L99.30,444.10 L99.80,443.85 L100.30,443.29 L100.80,442.83 L101.30,443.38 L101.80,442.07 L102.30,442.65 L102.80,443.31 L103.30,443.03 L103.80,442.72 L104.30,441.76 L104.80,442.02 L105.30,441.98 L105.80,442.22 L106.30,441.64 L106.80,442.11 L107.30,442.55 L107.80,440.79 L108.30,441.72 L108.80,441.87 L109.30,440.90 L109.80,441.01 L110.30,441.96 L110.80,439.79 L111.30,440.79 L111.80,439.84 L112.30,441.10 L112.80,441.35 L113.30,440.32 L113.80,439.30 L114.30,440.24 L114.80,440.08 L115.30,440.37 L115.80,439.84 L116.30,440.04 L116.80,440.38 L117.30,439.63 L117.80,439.32 L118.30,440.44 L118.80,438.77 L119.30,439.76 L119.80,439.08 L120.30,439.86 L120.80,438.42 L121.30,440.29 L121.80,438.88 L122.30,438.21 L122.80,438.67 L123.30,438.93 L123.80,438.07 L124.30,438.95 L124.80,438.94 L125.30,439.54 L125.80,438.77 L126.30,438.57 L126.80,438.47 L127.30,439.59 L127.80,440.01 L128.30,439.08 L128.80,438.38 L129.30,439.64 L129.80,438.71 L130.30,438.29 L130.80,438.08 L131.30,439.48 L131.80,439.53 L132.30,439.12 L132.80,438.73 L133.30,438.90 L133.80,438.14 L134.30,439.74 L134.80,438.36 L135.30,438.97 L135.80,439.33 L136.30,439.30 L136.80,438.51 L137.30,438.10 L137.80,438.63 L138.30,437.67 L138.80,439.20 L139.30,438.11 L139.80,439.17 L140.30,437.86 L140.80,438.06 L141.30,437.76 L141.80,438.10 L142.30,437.53 L142.80,437.09 L143.30,438.64 L143.80,437.63 L144.30,437.50 L144.80,437.59 L145.30,437.94 L145.80,437.78 L146.30,438.20" fill="none" stroke="#1D5D92" stroke-width="1.9" stroke-linejoin="round"/>
<path d="M47.30,468.65 L47.80,468.18 L48.30,469.61 L48.80,469.63 L49.30,468.07 L49.80,469.95 L50.30,470.31 L50.80,470.22 L51.30,468.99 L51.80,470.69 L52.30,470.43 L52.80,469.25 L53.30,469.41 L53.80,471.65 L54.30,471.16 L54.80,470.42 L55.30,470.24 L55.80,470.48 L56.30,470.83 L56.80,472.17 L57.30,471.36 L57.80,471.06 L58.30,472.82 L58.80,472.65 L59.30,471.34 L59.80,472.96 L60.30,472.34 L60.80,472.69 L61.30,472.40 L61.80,472.84 L62.30,472.52 L62.80,472.53 L63.30,471.01 L63.80,471.94 L64.30,471.41 L64.80,471.67 L65.30,470.75 L65.80,471.41 L66.30,470.29 L66.80,469.16 L67.30,468.49 L67.80,467.53 L68.30,467.41 L68.80,465.47 L69.30,465.29 L69.80,463.31 L70.30,462.59 L70.80,461.01 L71.30,459.57 L71.80,458.93 L72.30,455.93 L72.80,456.85 L73.30,455.25 L73.80,454.77 L74.30,454.38 L74.80,454.19 L75.30,452.63 L75.80,452.22 L76.30,452.91 L76.80,450.47 L77.30,451.22 L77.80,450.76 L78.30,448.98 L78.80,449.83 L79.30,449.59 L79.80,449.74 L80.30,448.03 L80.80,449.10 L81.30,447.70 L81.80,447.30 L82.30,447.87 L82.80,445.66 L83.30,446.88 L83.80,446.40 L84.30,445.51 L84.80,446.41 L85.30,445.09 L85.80,445.09 L86.30,444.97 L86.80,445.28 L87.30,443.81 L87.80,444.06 L88.30,443.78 L88.80,443.82 L89.30,444.16 L89.80,442.74 L90.30,443.66 L90.80,442.48 L91.30,442.45 L91.80,441.69 L92.30,441.96 L92.80,442.74 L93.30,441.79 L93.80,441.84 L94.30,440.57 L94.80,440.28 L95.30,439.98 L95.80,440.35 L96.30,440.21 L96.80,440.29 L97.30,438.41 L97.80,439.68 L98.30,439.82 L98.80,438.86 L99.30,437.56 L99.80,437.90 L100.30,437.04 L100.80,437.24 L101.30,438.64 L101.80,437.75 L102.30,437.66 L102.80,437.75 L103.30,437.83 L103.80,436.99 L104.30,436.82 L104.80,436.66 L105.30,436.65 L105.80,436.26 L106.30,436.29 L106.80,435.10 L107.30,435.95 L107.80,435.34 L108.30,435.87 L108.80,434.28 L109.30,434.32 L109.80,433.86 L110.30,435.36 L110.80,435.53 L111.30,434.84 L111.80,434.08 L112.30,434.96 L112.80,434.76 L113.30,434.14 L113.80,433.36 L114.30,433.34 L114.80,433.49 L115.30,433.15 L115.80,433.29 L116.30,433.64 L116.80,434.18 L117.30,432.14 L117.80,433.17 L118.30,431.91 L118.80,431.99 L119.30,433.41 L119.80,432.81 L120.30,433.47 L120.80,432.35 L121.30,431.32 L121.80,432.05 L122.30,432.43 L122.80,433.11 L123.30,433.13 L123.80,431.94 L124.30,431.73 L124.80,430.98 L125.30,432.10 L125.80,431.08 L126.30,430.88 L126.80,430.51 L127.30,430.42 L127.80,431.84 L128.30,430.54 L128.80,432.33 L129.30,430.33 L129.80,431.98 L130.30,430.28 L130.80,429.97 L131.30,431.45 L131.80,430.34 L132.30,431.36 L132.80,430.09 L133.30,429.73 L133.80,431.26 L134.30,431.07 L134.80,431.32 L135.30,430.98 L135.80,429.51 L136.30,430.65 L136.80,430.77 L137.30,430.17 L137.80,431.15 L138.30,429.61 L138.80,431.12 L139.30,430.53 L139.80,428.93 L140.30,428.89 L140.80,430.25 L141.30,430.58 L141.80,428.93 L142.30,429.41 L142.80,430.31 L143.30,429.05 L143.80,430.56 L144.30,429.72 L144.80,428.77 L145.30,429.44 L145.80,429.88 L146.30,429.57" fill="none" stroke="#EE9B33" stroke-width="1.9" stroke-linejoin="round"/>
<line x1="46.30" y1="424.20" x2="46.30" y2="482.20" stroke="#1e1e1e" stroke-width="1.1"/>
<line x1="46.30" y1="470.80" x2="148.00" y2="470.80" stroke="#1e1e1e" stroke-width="1.1"/>
<path d="M57.80,489.90 L63.40,489.90 L60.60,486.00 Z" fill="#B01E3C"/>
<text x="97.40" y="419.20" font-size="8.8" fill="#2e2e2e" text-anchor="middle" textLength="20.70" lengthAdjust="spacingAndGlyphs" stroke="#2e2e2e" stroke-width="0.15">Day 3</text>
<text x="107.50" y="494.00" font-size="7.4" fill="#2a2a2a" text-anchor="middle" textLength="38.40" lengthAdjust="spacingAndGlyphs" stroke="#2a2a2a" stroke-width="0.24">Time (minutes)</text>
<text transform="translate(12.90,452.30) rotate(-90)" x="0" y="0" font-size="7.0" fill="#2a2a2a" text-anchor="middle" textLength="64.50" lengthAdjust="spacingAndGlyphs" stroke="#2a2a2a" stroke-width="0.18">Aggregometry impedance</text>
<text transform="translate(22.80,452.30) rotate(-90)" x="0" y="0" font-size="7.0" fill="#2a2a2a" text-anchor="middle" textLength="45.50" lengthAdjust="spacingAndGlyphs" stroke="#2a2a2a" stroke-width="0.18">(impedance units)</text>
<line x1="171.10" y1="425.80" x2="174.40" y2="425.80" stroke="#1e1e1e" stroke-width="1"/>
<text x="168.80" y="427.90" font-size="5.9" fill="#383838" text-anchor="end" textLength="10.35" lengthAdjust="spacingAndGlyphs" stroke="#383838" stroke-width="0.1">250</text>
<line x1="171.10" y1="434.42" x2="174.40" y2="434.42" stroke="#1e1e1e" stroke-width="1"/>
<text x="168.80" y="436.52" font-size="5.9" fill="#383838" text-anchor="end" textLength="10.35" lengthAdjust="spacingAndGlyphs" stroke="#383838" stroke-width="0.1">200</text>
<line x1="171.10" y1="443.04" x2="174.40" y2="443.04" stroke="#1e1e1e" stroke-width="1"/>
<text x="168.80" y="445.14" font-size="5.9" fill="#383838" text-anchor="end" textLength="10.35" lengthAdjust="spacingAndGlyphs" stroke="#383838" stroke-width="0.1">150</text>
<line x1="171.10" y1="451.66" x2="174.40" y2="451.66" stroke="#1e1e1e" stroke-width="1"/>
<text x="168.80" y="453.76" font-size="5.9" fill="#383838" text-anchor="end" textLength="10.35" lengthAdjust="spacingAndGlyphs" stroke="#383838" stroke-width="0.1">100</text>
<line x1="171.10" y1="460.28" x2="174.40" y2="460.28" stroke="#1e1e1e" stroke-width="1"/>
<text x="168.80" y="462.38" font-size="5.9" fill="#383838" text-anchor="end" textLength="6.90" lengthAdjust="spacingAndGlyphs" stroke="#383838" stroke-width="0.1">50</text>
<line x1="171.10" y1="468.90" x2="174.40" y2="468.90" stroke="#1e1e1e" stroke-width="1"/>
<text x="168.80" y="471.00" font-size="5.9" fill="#383838" text-anchor="end" textLength="3.45" lengthAdjust="spacingAndGlyphs" stroke="#383838" stroke-width="0.1">0</text>
<line x1="171.10" y1="477.52" x2="174.40" y2="477.52" stroke="#1e1e1e" stroke-width="1"/>
<text x="168.80" y="479.62" font-size="5.9" fill="#383838" text-anchor="end" textLength="10.20" lengthAdjust="spacingAndGlyphs" stroke="#383838" stroke-width="0.1">−50</text>
<line x1="189.30" y1="468.90" x2="189.30" y2="471.90" stroke="#1e1e1e" stroke-width="1"/>
<text x="189.30" y="480.60" font-size="5.9" fill="#383838" text-anchor="middle" textLength="3.30" lengthAdjust="spacingAndGlyphs" stroke="#383838" stroke-width="0.1">3</text>
<line x1="203.50" y1="468.90" x2="203.50" y2="471.90" stroke="#1e1e1e" stroke-width="1"/>
<text x="203.50" y="480.60" font-size="5.9" fill="#383838" text-anchor="middle" textLength="3.30" lengthAdjust="spacingAndGlyphs" stroke="#383838" stroke-width="0.1">4</text>
<line x1="217.70" y1="468.90" x2="217.70" y2="471.90" stroke="#1e1e1e" stroke-width="1"/>
<text x="217.70" y="480.60" font-size="5.9" fill="#383838" text-anchor="middle" textLength="3.30" lengthAdjust="spacingAndGlyphs" stroke="#383838" stroke-width="0.1">5</text>
<line x1="231.90" y1="468.90" x2="231.90" y2="471.90" stroke="#1e1e1e" stroke-width="1"/>
<text x="231.90" y="480.60" font-size="5.9" fill="#383838" text-anchor="middle" textLength="3.30" lengthAdjust="spacingAndGlyphs" stroke="#383838" stroke-width="0.1">6</text>
<line x1="246.10" y1="468.90" x2="246.10" y2="471.90" stroke="#1e1e1e" stroke-width="1"/>
<text x="246.10" y="480.60" font-size="5.9" fill="#383838" text-anchor="middle" textLength="3.30" lengthAdjust="spacingAndGlyphs" stroke="#383838" stroke-width="0.1">7</text>
<line x1="260.30" y1="468.90" x2="260.30" y2="471.90" stroke="#1e1e1e" stroke-width="1"/>
<text x="260.30" y="480.60" font-size="5.9" fill="#383838" text-anchor="middle" textLength="3.30" lengthAdjust="spacingAndGlyphs" stroke="#383838" stroke-width="0.1">8</text>
<line x1="274.50" y1="468.90" x2="274.50" y2="471.90" stroke="#1e1e1e" stroke-width="1"/>
<text x="274.50" y="480.60" font-size="5.9" fill="#383838" text-anchor="middle" textLength="3.30" lengthAdjust="spacingAndGlyphs" stroke="#383838" stroke-width="0.1">9</text>
<path d="M174.70,466.89 L175.20,465.90 L175.70,467.51 L176.20,466.73 L176.70,467.53 L177.20,467.68 L177.70,467.39 L178.20,467.49 L178.70,468.54 L179.20,469.06 L179.70,468.88 L180.20,468.56 L180.70,468.11 L181.20,467.76 L181.70,469.93 L182.20,469.50 L182.70,469.94 L183.20,469.02 L183.70,469.78 L184.20,470.76 L184.70,470.60 L185.20,470.24 L185.70,469.74 L186.20,470.14 L186.70,471.27 L187.20,470.25 L187.70,471.02 L188.20,470.90 L188.70,471.59 L189.20,471.42 L189.70,470.26 L190.20,469.62 L190.70,470.15 L191.20,470.42 L191.70,470.67 L192.20,471.04 L192.70,471.03 L193.20,468.95 L193.70,470.44 L194.20,470.09 L194.70,469.86 L195.20,468.80 L195.70,467.68 L196.20,468.42 L196.70,467.76 L197.20,466.87 L197.70,466.73 L198.20,464.80 L198.70,463.48 L199.20,463.63 L199.70,463.17 L200.20,460.80 L200.70,460.97 L201.20,460.44 L201.70,458.12 L202.20,458.20 L202.70,457.68 L203.20,456.60 L203.70,455.50 L204.20,455.15 L204.70,455.83 L205.20,455.57 L205.70,454.53 L206.20,453.43 L206.70,454.75 L207.20,454.43 L207.70,453.01 L208.20,453.55 L208.70,454.02 L209.20,453.77 L209.70,452.74 L210.20,452.40 L210.70,452.40 L211.20,451.26 L211.70,451.02 L212.20,450.74 L212.70,451.63 L213.20,450.64 L213.70,450.84 L214.20,450.24 L214.70,450.25 L215.20,449.20 L215.70,448.74 L216.20,450.61 L216.70,449.02 L217.20,448.20 L217.70,449.14 L218.20,449.27 L218.70,447.67 L219.20,448.43 L219.70,447.68 L220.20,447.88 L220.70,446.61 L221.20,446.47 L221.70,448.43 L222.20,448.01 L222.70,447.04 L223.20,447.09 L223.70,446.31 L224.20,447.34 L224.70,446.47 L225.20,447.52 L225.70,447.04 L226.20,447.08 L226.70,447.32 L227.20,445.69 L227.70,445.15 L228.20,445.45 L228.70,445.35 L229.20,445.08 L229.70,444.96 L230.20,446.03 L230.70,446.67 L231.20,445.72 L231.70,446.75 L232.20,446.63 L232.70,444.72 L233.20,445.86 L233.70,445.37 L234.20,444.72 L234.70,446.53 L235.20,444.94 L235.70,445.57 L236.20,445.70 L236.70,446.35 L237.20,445.68 L237.70,445.03 L238.20,445.10 L238.70,444.43 L239.20,446.16 L239.70,446.18 L240.20,444.44 L240.70,444.00 L241.20,444.44 L241.70,444.61 L242.20,445.79 L242.70,445.76 L243.20,445.58 L243.70,443.81 L244.20,445.41 L244.70,445.21 L245.20,445.05 L245.70,445.78 L246.20,443.71 L246.70,443.89 L247.20,445.22 L247.70,445.62 L248.20,445.03 L248.70,444.19 L249.20,444.83 L249.70,445.20 L250.20,443.76 L250.70,444.24 L251.20,444.10 L251.70,443.81 L252.20,444.60 L252.70,443.91 L253.20,444.07 L253.70,443.87 L254.20,445.05 L254.70,443.60 L255.20,445.15 L255.70,444.01 L256.20,443.67 L256.70,445.64 L257.20,444.09 L257.70,445.67 L258.20,445.52 L258.70,445.58 L259.20,443.94 L259.70,444.62 L260.20,443.86 L260.70,445.69 L261.20,445.51 L261.70,445.05 L262.20,444.67 L262.70,444.43 L263.20,445.50 L263.70,444.76 L264.20,445.10 L264.70,444.05 L265.20,444.24 L265.70,443.90 L266.20,445.37 L266.70,445.04 L267.20,444.17 L267.70,445.81 L268.20,444.53 L268.70,444.90 L269.20,444.41 L269.70,444.75 L270.20,446.10 L270.70,445.13 L271.20,444.95 L271.70,445.88 L272.20,445.76 L272.70,447.43 L273.20,446.25 L273.70,448.81 L274.20,447.26 L274.70,449.21 L275.20,448.55 L275.70,447.24" fill="none" stroke="#1D5D92" stroke-width="1.9" stroke-linejoin="round"/>
<path d="M174.70,466.05 L175.20,465.81 L175.70,465.94 L176.20,466.00 L176.70,466.55 L177.20,468.11 L177.70,468.31 L178.20,468.34 L178.70,466.70 L179.20,467.30 L179.70,468.80 L180.20,467.13 L180.70,468.77 L181.20,467.98 L181.70,469.65 L182.20,467.71 L182.70,469.62 L183.20,468.77 L183.70,468.50 L184.20,468.36 L184.70,470.36 L185.20,469.84 L185.70,469.24 L186.20,469.93 L186.70,471.11 L187.20,469.69 L187.70,470.56 L188.20,469.68 L188.70,469.81 L189.20,471.13 L189.70,470.97 L190.20,469.80 L190.70,469.48 L191.20,469.39 L191.70,470.42 L192.20,470.03 L192.70,469.38 L193.20,469.04 L193.70,469.73 L194.20,469.72 L194.70,469.71 L195.20,468.92 L195.70,467.73 L196.20,466.97 L196.70,467.88 L197.20,466.50 L197.70,466.37 L198.20,463.95 L198.70,464.55 L199.20,462.38 L199.70,462.36 L200.20,461.32 L200.70,459.46 L201.20,457.33 L201.70,458.20 L202.20,456.17 L202.70,456.04 L203.20,453.79 L203.70,452.81 L204.20,453.52 L204.70,451.85 L205.20,450.80 L205.70,450.70 L206.20,450.66 L206.70,448.86 L207.20,449.50 L207.70,448.86 L208.20,448.54 L208.70,447.21 L209.20,448.07 L209.70,447.87 L210.20,447.55 L210.70,445.94 L211.20,446.40 L211.70,445.29 L212.20,445.73 L212.70,443.85 L213.20,445.29 L213.70,445.14 L214.20,443.81 L214.70,443.56 L215.20,443.32 L215.70,443.07 L216.20,441.69 L216.70,443.53 L217.20,441.67 L217.70,441.36 L218.20,440.97 L218.70,441.08 L219.20,442.11 L219.70,440.17 L220.20,440.12 L220.70,441.25 L221.20,439.96 L221.70,439.39 L222.20,440.51 L222.70,440.30 L223.20,440.03 L223.70,440.28 L224.20,438.81 L224.70,440.36 L225.20,439.88 L225.70,438.26 L226.20,438.29 L226.70,438.97 L227.20,438.85 L227.70,438.23 L228.20,437.75 L228.70,438.24 L229.20,437.52 L229.70,438.39 L230.20,438.86 L230.70,437.16 L231.20,437.98 L231.70,438.24 L232.20,436.84 L232.70,438.18 L233.20,438.32 L233.70,437.00 L234.20,436.97 L234.70,437.79 L235.20,437.00 L235.70,436.62 L236.20,437.73 L236.70,437.28 L237.20,436.23 L237.70,435.93 L238.20,436.05 L238.70,436.20 L239.20,437.32 L239.70,436.86 L240.20,437.02 L240.70,436.74 L241.20,436.74 L241.70,434.93 L242.20,435.89 L242.70,436.80 L243.20,436.69 L243.70,435.14 L244.20,435.47 L244.70,435.89 L245.20,435.26 L245.70,435.58 L246.20,434.54 L246.70,435.31 L247.20,435.44 L247.70,434.36 L248.20,434.61 L248.70,436.42 L249.20,435.99 L249.70,436.34 L250.20,435.68 L250.70,436.07 L251.20,436.24 L251.70,436.25 L252.20,434.39 L252.70,435.73 L253.20,434.92 L253.70,435.83 L254.20,434.96 L254.70,435.56 L255.20,436.41 L255.70,435.75 L256.20,434.94 L256.70,435.54 L257.20,435.36 L257.70,436.50 L258.20,435.05 L258.70,435.09 L259.20,435.85 L259.70,434.69 L260.20,435.74 L260.70,436.55 L261.20,435.58 L261.70,435.05 L262.20,435.49 L262.70,435.65 L263.20,434.81 L263.70,434.76 L264.20,434.79 L264.70,435.16 L265.20,435.42 L265.70,435.17 L266.20,435.08 L266.70,434.76 L267.20,435.78 L267.70,436.44 L268.20,435.96 L268.70,435.89 L269.20,436.10 L269.70,435.14 L270.20,436.28 L270.70,435.77 L271.20,435.99 L271.70,436.17 L272.20,435.89 L272.70,435.58 L273.20,435.46 L273.70,435.46 L274.20,436.14 L274.70,435.89 L275.20,436.37" fill="none" stroke="#EE9B33" stroke-width="1.9" stroke-linejoin="round"/>
<line x1="174.40" y1="424.10" x2="174.40" y2="482.90" stroke="#1e1e1e" stroke-width="1.1"/>
<line x1="174.40" y1="468.90" x2="277.00" y2="468.90" stroke="#1e1e1e" stroke-width="1.1"/>
<path d="M186.50,488.00 L192.10,488.00 L189.30,484.10 Z" fill="#B01E3C"/>
<text x="225.90" y="419.00" font-size="8.8" fill="#2e2e2e" text-anchor="middle" textLength="20.70" lengthAdjust="spacingAndGlyphs" stroke="#2e2e2e" stroke-width="0.15">Day 5</text>
<text x="235.90" y="491.50" font-size="7.4" fill="#2a2a2a" text-anchor="middle" textLength="38.40" lengthAdjust="spacingAndGlyphs" stroke="#2a2a2a" stroke-width="0.24">Time (minutes)</text>
<line x1="299.60" y1="432.40" x2="302.90" y2="432.40" stroke="#1e1e1e" stroke-width="1"/>
<text x="297.30" y="434.50" font-size="5.9" fill="#383838" text-anchor="end" textLength="10.35" lengthAdjust="spacingAndGlyphs" stroke="#383838" stroke-width="0.1">120</text>
<line x1="299.60" y1="444.10" x2="302.90" y2="444.10" stroke="#1e1e1e" stroke-width="1"/>
<text x="297.30" y="446.20" font-size="5.9" fill="#383838" text-anchor="end" textLength="6.90" lengthAdjust="spacingAndGlyphs" stroke="#383838" stroke-width="0.1">80</text>
<line x1="299.60" y1="455.80" x2="302.90" y2="455.80" stroke="#1e1e1e" stroke-width="1"/>
<text x="297.30" y="457.90" font-size="5.9" fill="#383838" text-anchor="end" textLength="6.90" lengthAdjust="spacingAndGlyphs" stroke="#383838" stroke-width="0.1">40</text>
<line x1="299.60" y1="467.50" x2="302.90" y2="467.50" stroke="#1e1e1e" stroke-width="1"/>
<text x="297.30" y="469.60" font-size="5.9" fill="#383838" text-anchor="end" textLength="3.45" lengthAdjust="spacingAndGlyphs" stroke="#383838" stroke-width="0.1">0</text>
<line x1="299.60" y1="479.20" x2="302.90" y2="479.20" stroke="#1e1e1e" stroke-width="1"/>
<text x="297.30" y="481.30" font-size="5.9" fill="#383838" text-anchor="end" textLength="10.20" lengthAdjust="spacingAndGlyphs" stroke="#383838" stroke-width="0.1">−40</text>
<line x1="318.60" y1="467.50" x2="318.60" y2="470.50" stroke="#1e1e1e" stroke-width="1"/>
<text x="318.60" y="479.20" font-size="5.9" fill="#383838" text-anchor="middle" textLength="3.30" lengthAdjust="spacingAndGlyphs" stroke="#383838" stroke-width="0.1">3</text>
<line x1="332.80" y1="467.50" x2="332.80" y2="470.50" stroke="#1e1e1e" stroke-width="1"/>
<text x="332.80" y="479.20" font-size="5.9" fill="#383838" text-anchor="middle" textLength="3.30" lengthAdjust="spacingAndGlyphs" stroke="#383838" stroke-width="0.1">4</text>
<line x1="347.00" y1="467.50" x2="347.00" y2="470.50" stroke="#1e1e1e" stroke-width="1"/>
<text x="347.00" y="479.20" font-size="5.9" fill="#383838" text-anchor="middle" textLength="3.30" lengthAdjust="spacingAndGlyphs" stroke="#383838" stroke-width="0.1">5</text>
<line x1="361.20" y1="467.50" x2="361.20" y2="470.50" stroke="#1e1e1e" stroke-width="1"/>
<text x="361.20" y="479.20" font-size="5.9" fill="#383838" text-anchor="middle" textLength="3.30" lengthAdjust="spacingAndGlyphs" stroke="#383838" stroke-width="0.1">6</text>
<line x1="375.40" y1="467.50" x2="375.40" y2="470.50" stroke="#1e1e1e" stroke-width="1"/>
<text x="375.40" y="479.20" font-size="5.9" fill="#383838" text-anchor="middle" textLength="3.30" lengthAdjust="spacingAndGlyphs" stroke="#383838" stroke-width="0.1">7</text>
<line x1="389.60" y1="467.50" x2="389.60" y2="470.50" stroke="#1e1e1e" stroke-width="1"/>
<text x="389.60" y="479.20" font-size="5.9" fill="#383838" text-anchor="middle" textLength="3.30" lengthAdjust="spacingAndGlyphs" stroke="#383838" stroke-width="0.1">8</text>
<line x1="403.80" y1="467.50" x2="403.80" y2="470.50" stroke="#1e1e1e" stroke-width="1"/>
<text x="403.80" y="479.20" font-size="5.9" fill="#383838" text-anchor="middle" textLength="3.30" lengthAdjust="spacingAndGlyphs" stroke="#383838" stroke-width="0.1">9</text>
<path d="M304.40,460.55 L304.90,462.24 L305.40,464.64 L305.90,462.28 L306.40,463.87 L306.90,463.85 L307.40,463.24 L307.90,466.45 L308.40,463.81 L308.90,466.07 L309.40,463.76 L309.90,463.64 L310.40,467.29 L310.90,465.75 L311.40,464.44 L311.90,466.10 L312.40,466.61 L312.90,468.15 L313.40,465.82 L313.90,466.60 L314.40,469.99 L314.90,469.36 L315.40,467.20 L315.90,468.26 L316.40,468.61 L316.90,470.24 L317.40,470.24 L317.90,471.47 L318.40,471.64 L318.90,470.34 L319.40,471.10 L319.90,470.96 L320.40,470.86 L320.90,469.48 L321.40,470.60 L321.90,470.09 L322.40,470.76 L322.90,467.25 L323.40,470.17 L323.90,466.32 L324.40,469.30 L324.90,468.32 L325.40,467.72 L325.90,469.43 L326.40,467.55 L326.90,466.63 L327.40,467.89 L327.90,467.94 L328.40,466.48 L328.90,465.15 L329.40,465.04 L329.90,464.63 L330.40,465.29 L330.90,463.02 L331.40,462.98 L331.90,463.24 L332.40,462.12 L332.90,461.48 L333.40,463.10 L333.90,463.04 L334.40,461.26 L334.90,460.72 L335.40,459.34 L335.90,459.56 L336.40,458.60 L336.90,460.13 L337.40,459.87 L337.90,457.50 L338.40,460.70 L338.90,457.90 L339.40,459.77 L339.90,459.44 L340.40,459.64 L340.90,456.17 L341.40,456.79 L341.90,458.53 L342.40,454.45 L342.90,454.31 L343.40,456.20 L343.90,455.63 L344.40,457.13 L344.90,456.22 L345.40,454.95 L345.90,456.60 L346.40,454.30 L346.90,454.03 L347.40,454.49 L347.90,453.01 L348.40,452.68 L348.90,453.50 L349.40,452.33 L349.90,454.72 L350.40,453.50 L350.90,452.81 L351.40,450.99 L351.90,452.13 L352.40,452.24 L352.90,452.91 L353.40,452.96 L353.90,454.23 L354.40,454.57 L354.90,452.53 L355.40,452.30 L355.90,453.04 L356.40,454.57 L356.90,451.80 L357.40,452.55 L357.90,453.72 L358.40,450.98 L358.90,451.56 L359.40,454.31 L359.90,453.64 L360.40,452.29 L360.90,450.57 L361.40,453.84 L361.90,452.95 L362.40,453.47 L362.90,454.16 L363.40,453.70 L363.90,451.71 L364.40,450.58 L364.90,451.11 L365.40,452.02 L365.90,451.96 L366.40,450.60 L366.90,450.55 L367.40,452.41 L367.90,452.27 L368.40,451.19 L368.90,453.86 L369.40,452.34 L369.90,449.82 L370.40,451.35 L370.90,452.91 L371.40,450.87 L371.90,452.46 L372.40,449.56 L372.90,450.81 L373.40,453.05 L373.90,451.96 L374.40,452.30 L374.90,450.31 L375.40,451.57 L375.90,451.80 L376.40,450.60 L376.90,452.20 L377.40,451.72 L377.90,453.68 L378.40,451.91 L378.90,451.23 L379.40,450.02 L379.90,450.17 L380.40,452.71 L380.90,449.97 L381.40,449.95 L381.90,450.25 L382.40,451.72 L382.90,452.98 L383.40,452.10 L383.90,452.90 L384.40,449.77 L384.90,449.55 L385.40,452.71 L385.90,450.81 L386.40,452.43 L386.90,450.88 L387.40,450.08 L387.90,450.45 L388.40,449.71 L388.90,453.05 L389.40,451.66 L389.90,450.64 L390.40,451.02 L390.90,450.72 L391.40,449.29 L391.90,452.76 L392.40,451.44 L392.90,452.99 L393.40,450.78 L393.90,451.52 L394.40,449.95 L394.90,449.08 L395.40,452.81 L395.90,452.49 L396.40,450.25 L396.90,452.73 L397.40,452.42 L397.90,450.32 L398.40,451.62 L398.90,453.18 L399.40,451.29 L399.90,453.27 L400.40,450.37 L400.90,451.06 L401.40,452.52 L401.90,450.51 L402.40,450.96 L402.90,453.42 L403.40,451.86 L403.90,453.24 L404.40,451.01" fill="none" stroke="#1D5D92" stroke-width="1.9" stroke-linejoin="round"/>
<path d="M304.40,460.80 L304.90,461.90 L305.40,461.36 L305.90,465.22 L306.40,462.33 L306.90,463.83 L307.40,462.02 L307.90,464.20 L308.40,463.77 L308.90,464.11 L309.40,462.81 L309.90,463.34 L310.40,466.83 L310.90,464.92 L311.40,464.72 L311.90,464.78 L312.40,465.53 L312.90,465.66 L313.40,465.07 L313.90,468.31 L314.40,467.16 L314.90,466.63 L315.40,469.46 L315.90,466.93 L316.40,467.98 L316.90,470.78 L317.40,467.66 L317.90,469.15 L318.40,470.91 L318.90,470.61 L319.40,467.38 L319.90,467.93 L320.40,469.24 L320.90,467.27 L321.40,469.60 L321.90,465.86 L322.40,469.04 L322.90,466.77 L323.40,465.28 L323.90,466.12 L324.40,464.43 L324.90,466.86 L325.40,464.58 L325.90,467.28 L326.40,465.57 L326.90,464.25 L327.40,463.33 L327.90,464.53 L328.40,462.10 L328.90,464.39 L329.40,460.11 L329.90,461.11 L330.40,460.55 L330.90,458.70 L331.40,460.45 L331.90,458.12 L332.40,458.85 L332.90,457.93 L333.40,456.26 L333.90,456.16 L334.40,454.31 L334.90,454.30 L335.40,457.00 L335.90,454.17 L336.40,455.37 L336.90,452.47 L337.40,454.21 L337.90,452.95 L338.40,453.26 L338.90,452.00 L339.40,450.61 L339.90,451.42 L340.40,450.71 L340.90,449.92 L341.40,452.32 L341.90,450.01 L342.40,450.26 L342.90,452.28 L343.40,451.36 L343.90,451.56 L344.40,451.17 L344.90,447.53 L345.40,447.91 L345.90,446.49 L346.40,449.21 L346.90,448.87 L347.40,447.17 L347.90,447.20 L348.40,448.08 L348.90,448.01 L349.40,445.70 L349.90,448.21 L350.40,445.69 L350.90,446.73 L351.40,444.44 L351.90,443.90 L352.40,447.34 L352.90,446.29 L353.40,445.97 L353.90,442.67 L354.40,442.46 L354.90,442.81 L355.40,442.77 L355.90,443.05 L356.40,443.20 L356.90,441.41 L357.40,442.43 L357.90,443.71 L358.40,441.38 L358.90,444.20 L359.40,442.75 L359.90,443.22 L360.40,440.90 L360.90,441.54 L361.40,442.52 L361.90,440.81 L362.40,439.05 L362.90,442.74 L363.40,442.34 L363.90,439.96 L364.40,438.72 L364.90,442.34 L365.40,441.09 L365.90,438.40 L366.40,439.21 L366.90,438.49 L367.40,441.52 L367.90,438.75 L368.40,441.89 L368.90,441.04 L369.40,437.90 L369.90,440.61 L370.40,439.13 L370.90,440.67 L371.40,440.95 L371.90,438.35 L372.40,437.38 L372.90,441.23 L373.40,438.74 L373.90,440.98 L374.40,439.79 L374.90,439.92 L375.40,440.25 L375.90,439.24 L376.40,438.35 L376.90,436.43 L377.40,439.31 L377.90,437.98 L378.40,438.29 L378.90,440.12 L379.40,436.36 L379.90,439.20 L380.40,435.82 L380.90,438.78 L381.40,439.18 L381.90,436.60 L382.40,437.84 L382.90,439.71 L383.40,438.12 L383.90,437.62 L384.40,436.20 L384.90,435.26 L385.40,436.57 L385.90,436.75 L386.40,435.72 L386.90,436.16 L387.40,435.29 L387.90,437.85 L388.40,437.62 L388.90,435.57 L389.40,435.53 L389.90,436.73 L390.40,436.35 L390.90,438.55 L391.40,435.81 L391.90,435.52 L392.40,438.17 L392.90,434.71 L393.40,436.61 L393.90,435.52 L394.40,437.70 L394.90,436.45 L395.40,437.41 L395.90,434.68 L396.40,436.97 L396.90,436.67 L397.40,436.05 L397.90,437.49 L398.40,437.81 L398.90,434.56 L399.40,435.41 L399.90,435.79 L400.40,435.13 L400.90,434.52 L401.40,435.59 L401.90,435.27 L402.40,437.66 L402.90,436.56 L403.40,435.09 L403.90,436.12 L404.40,436.84" fill="none" stroke="#EE9B33" stroke-width="1.9" stroke-linejoin="round"/>
<line x1="302.90" y1="424.80" x2="302.90" y2="482.20" stroke="#1e1e1e" stroke-width="1.1"/>
<line x1="302.90" y1="467.50" x2="408.80" y2="467.50" stroke="#1e1e1e" stroke-width="1.1"/>
<path d="M315.80,486.60 L321.40,486.60 L318.60,482.70 Z" fill="#B01E3C"/>
<text x="356.40" y="419.00" font-size="8.8" fill="#2e2e2e" text-anchor="middle" textLength="20.70" lengthAdjust="spacingAndGlyphs" stroke="#2e2e2e" stroke-width="0.15">Day 7</text>
<text x="369.00" y="490.50" font-size="7.4" fill="#2a2a2a" text-anchor="middle" textLength="38.40" lengthAdjust="spacingAndGlyphs" stroke="#2a2a2a" stroke-width="0.24">Time (minutes)</text>
<rect x="418.20" y="302.30" width="95.50" height="72.40" fill="none" stroke="#333" stroke-width="1.0"/>
<text x="467.30" y="311.80" font-size="6.4" fill="#333" text-anchor="middle" textLength="38.90" lengthAdjust="spacingAndGlyphs" stroke="#333" stroke-width="0.08">Collagen AUC</text>
<text x="452.00" y="325.80" font-size="6.4" fill="#333" text-anchor="middle" textLength="15.80" lengthAdjust="spacingAndGlyphs" stroke="#333" stroke-width="0.08">Day 3</text>
<text x="473.50" y="325.80" font-size="6.4" fill="#333" text-anchor="middle" textLength="15.80" lengthAdjust="spacingAndGlyphs" stroke="#333" stroke-width="0.08">Day 5</text>
<text x="495.20" y="325.80" font-size="6.4" fill="#333" text-anchor="middle" textLength="15.80" lengthAdjust="spacingAndGlyphs" stroke="#333" stroke-width="0.08">Day 7</text>
<line x1="439.80" y1="334.60" x2="509.70" y2="334.60" stroke="#333" stroke-width="1.0"/>
<text x="421.70" y="350.10" font-size="6.4" fill="#333" textLength="12.90" lengthAdjust="spacingAndGlyphs" stroke="#333" stroke-width="0.08">NPR</text>
<text x="421.70" y="364.90" font-size="6.4" fill="#333" textLength="8.40" lengthAdjust="spacingAndGlyphs" stroke="#333" stroke-width="0.08">PR</text>
<text x="452.00" y="350.10" font-size="6.4" fill="#333" text-anchor="middle" textLength="11.00" lengthAdjust="spacingAndGlyphs" stroke="#333" stroke-width="0.08">978</text>
<text x="452.00" y="364.90" font-size="6.4" fill="#333" text-anchor="middle" textLength="11.00" lengthAdjust="spacingAndGlyphs" stroke="#333" stroke-width="0.08">628</text>
<text x="473.50" y="350.10" font-size="6.4" fill="#333" text-anchor="middle" textLength="11.00" lengthAdjust="spacingAndGlyphs" stroke="#333" stroke-width="0.08">649</text>
<text x="473.50" y="364.90" font-size="6.4" fill="#333" text-anchor="middle" textLength="11.00" lengthAdjust="spacingAndGlyphs" stroke="#333" stroke-width="0.08">634</text>
<text x="495.20" y="350.10" font-size="6.4" fill="#333" text-anchor="middle" textLength="11.00" lengthAdjust="spacingAndGlyphs" stroke="#333" stroke-width="0.08">427</text>
<text x="495.20" y="364.90" font-size="6.4" fill="#333" text-anchor="middle" textLength="11.00" lengthAdjust="spacingAndGlyphs" stroke="#333" stroke-width="0.08">347</text>
<rect x="418.70" y="402.90" width="94.50" height="72.20" fill="none" stroke="#333" stroke-width="1.0"/>
<text x="467.30" y="412.50" font-size="6.4" fill="#333" text-anchor="middle" textLength="58.60" lengthAdjust="spacingAndGlyphs" stroke="#333" stroke-width="0.08">Thrombin analog AUC</text>
<text x="452.00" y="426.60" font-size="6.4" fill="#333" text-anchor="middle" textLength="15.80" lengthAdjust="spacingAndGlyphs" stroke="#333" stroke-width="0.08">Day 3</text>
<text x="473.50" y="426.60" font-size="6.4" fill="#333" text-anchor="middle" textLength="15.80" lengthAdjust="spacingAndGlyphs" stroke="#333" stroke-width="0.08">Day 5</text>
<text x="495.20" y="426.60" font-size="6.4" fill="#333" text-anchor="middle" textLength="15.80" lengthAdjust="spacingAndGlyphs" stroke="#333" stroke-width="0.08">Day 7</text>
<line x1="439.80" y1="435.00" x2="509.70" y2="435.00" stroke="#333" stroke-width="1.0"/>
<text x="421.70" y="450.30" font-size="6.4" fill="#333" textLength="12.90" lengthAdjust="spacingAndGlyphs" stroke="#333" stroke-width="0.08">NPR</text>
<text x="421.70" y="465.30" font-size="6.4" fill="#333" textLength="8.40" lengthAdjust="spacingAndGlyphs" stroke="#333" stroke-width="0.08">PR</text>
<text x="452.00" y="450.30" font-size="6.4" fill="#333" text-anchor="middle" textLength="11.00" lengthAdjust="spacingAndGlyphs" stroke="#333" stroke-width="0.08">944</text>
<text x="452.00" y="465.30" font-size="6.4" fill="#333" text-anchor="middle" textLength="11.00" lengthAdjust="spacingAndGlyphs" stroke="#333" stroke-width="0.08">756</text>
<text x="473.50" y="450.30" font-size="6.4" fill="#333" text-anchor="middle" textLength="11.00" lengthAdjust="spacingAndGlyphs" stroke="#333" stroke-width="0.08">876</text>
<text x="473.50" y="465.30" font-size="6.4" fill="#333" text-anchor="middle" textLength="11.00" lengthAdjust="spacingAndGlyphs" stroke="#333" stroke-width="0.08">652</text>
<text x="495.20" y="450.30" font-size="6.4" fill="#333" text-anchor="middle" textLength="11.00" lengthAdjust="spacingAndGlyphs" stroke="#333" stroke-width="0.08">425</text>
<text x="495.20" y="465.30" font-size="6.4" fill="#333" text-anchor="middle" textLength="11.00" lengthAdjust="spacingAndGlyphs" stroke="#333" stroke-width="0.08">243</text>
<line x1="195.70" y1="501.80" x2="210.00" y2="501.80" stroke="#F2C08A" stroke-width="1.9"/>
<text x="215.60" y="504.00" font-size="6.6" fill="#2e2e2e" textLength="12.60" lengthAdjust="spacingAndGlyphs" stroke="#2e2e2e" stroke-width="0.14">NPR</text>
<line x1="234.30" y1="501.80" x2="248.20" y2="501.80" stroke="#5E7E98" stroke-width="1.9"/>
<text x="251.20" y="504.00" font-size="6.6" fill="#2e2e2e" textLength="8.20" lengthAdjust="spacingAndGlyphs" stroke="#2e2e2e" stroke-width="0.14">PR</text>
<rect x="0.50" y="0.50" width="519.00" height="511.00" fill="none" stroke="#666" stroke-width="1.0"/>
</svg>
</body></html>
